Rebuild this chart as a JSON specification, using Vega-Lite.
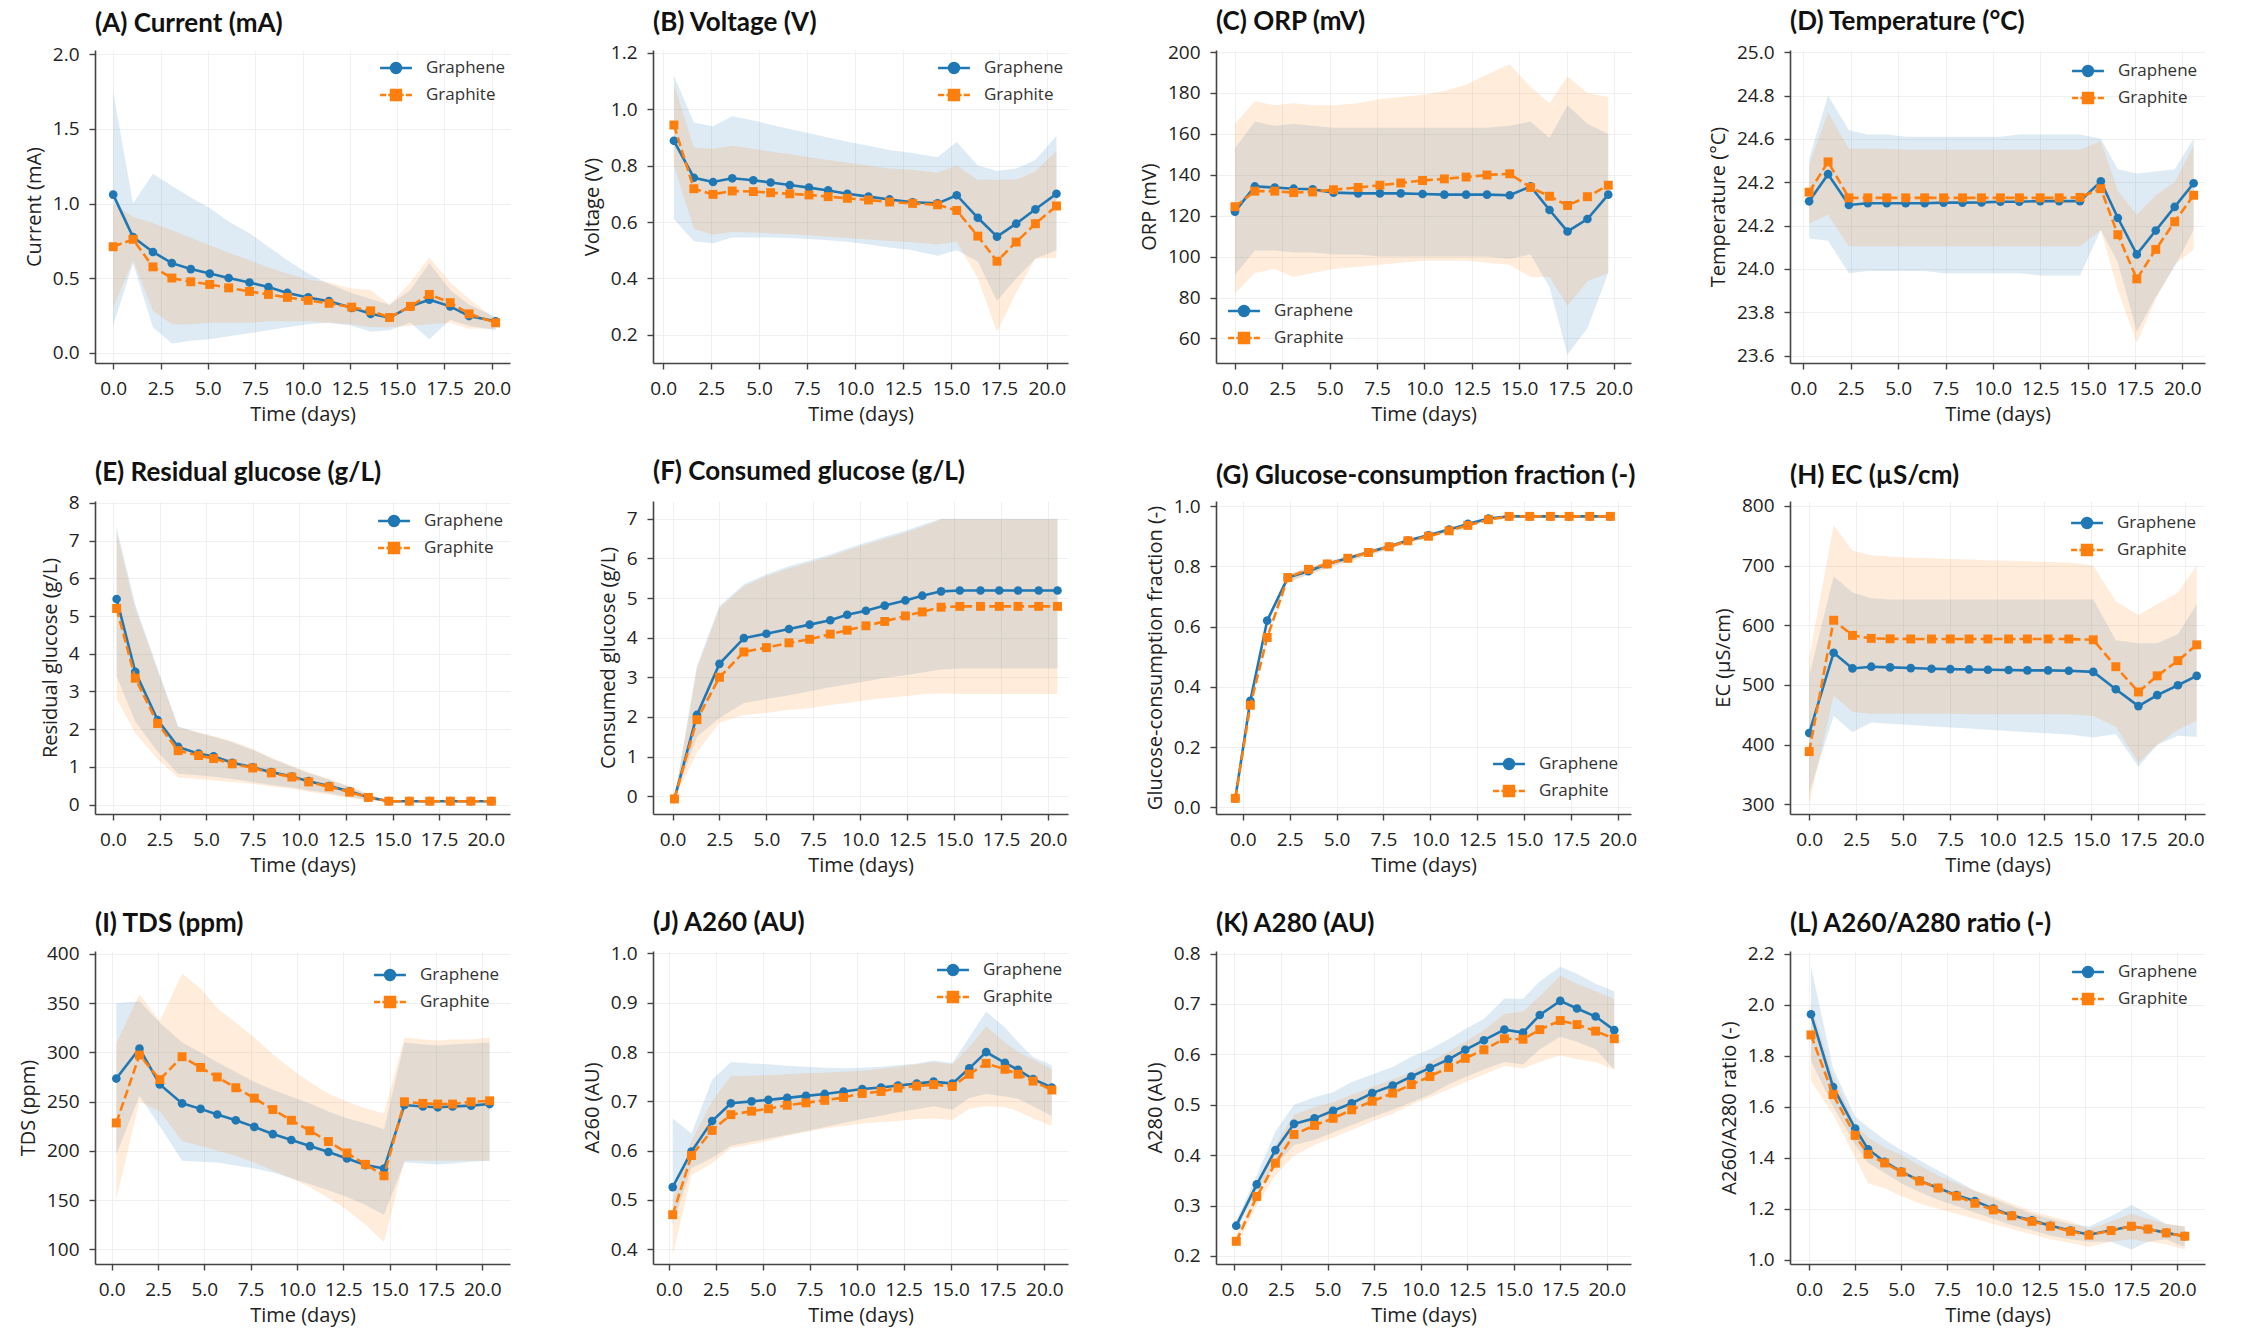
{
  "$schema": "https://vega.github.io/schema/vega-lite/v6.json",
  "background": "white",
  "padding": {"left": 18, "top": 9, "right": 5, "bottom": 2},
  "config": {
    "font": "Open Sans",
    "view": {"stroke": null},
    "axis": {"labelFontSize": 19, "titleFontSize": 20, "titleFontWeight": "normal", "labelColor": "#222", "titleColor": "#222", "domainColor": "#444", "domainWidth": 1.6, "tickColor": "#444", "tickWidth": 1.4, "tickSize": 6, "labelPadding": 10, "gridColor": "#f0f0f0", "grid": true},
    "axisX": {"titlePadding": 6},
    "axisY": {"titlePadding": 8},
    "title": {"font": "Lato", "fontSize": 26, "fontWeight": "bold", "anchor": "start", "color": "#111", "offset": 8, "frame": "group"},
    "legend": {"labelFontSize": 17, "labelColor": "#333", "symbolSize": 600, "symbolStrokeWidth": 2.6, "labelOffset": 16, "rowPadding": 2, "offset": 4, "padding": 2}
  },
  "resolve": {
    "scale": {"fill": "independent", "stroke": "independent", "shape": "independent"},
    "legend": {"fill": "independent", "stroke": "independent", "shape": "independent"}
  },
  "spacing": {"row": 35, "column": 71},
  "columns": 4,
  "datasets": {
    "bio": [
      {"panel":"A","material":"Graphene","day":0,"value":1.06,"lower":0.18,"upper":1.75},
      {"panel":"A","material":"Graphene","day":1.05,"value":0.775,"lower":0.6,"upper":1.0},
      {"panel":"A","material":"Graphene","day":2.1,"value":0.675,"lower":0.17,"upper":1.2},
      {"panel":"A","material":"Graphene","day":3.1,"value":0.6,"lower":0.06,"upper":1.12},
      {"panel":"A","material":"Graphene","day":4.1,"value":0.56,"lower":0.08,"upper":1.04},
      {"panel":"A","material":"Graphene","day":5.1,"value":0.53,"lower":0.09,"upper":0.97},
      {"panel":"A","material":"Graphene","day":6.1,"value":0.5,"lower":0.11,"upper":0.88},
      {"panel":"A","material":"Graphene","day":7.2,"value":0.47,"lower":0.13,"upper":0.8},
      {"panel":"A","material":"Graphene","day":8.2,"value":0.44,"lower":0.15,"upper":0.71},
      {"panel":"A","material":"Graphene","day":9.2,"value":0.4,"lower":0.17,"upper":0.62},
      {"panel":"A","material":"Graphene","day":10.3,"value":0.37,"lower":0.19,"upper":0.53},
      {"panel":"A","material":"Graphene","day":11.4,"value":0.345,"lower":0.2,"upper":0.46},
      {"panel":"A","material":"Graphene","day":12.6,"value":0.3,"lower":0.18,"upper":0.4},
      {"panel":"A","material":"Graphene","day":13.6,"value":0.26,"lower":0.14,"upper":0.36},
      {"panel":"A","material":"Graphene","day":14.6,"value":0.235,"lower":0.15,"upper":0.32},
      {"panel":"A","material":"Graphene","day":15.7,"value":0.31,"lower":0.2,"upper":0.42},
      {"panel":"A","material":"Graphene","day":16.7,"value":0.355,"lower":0.09,"upper":0.6},
      {"panel":"A","material":"Graphene","day":17.8,"value":0.31,"lower":0.22,"upper":0.42},
      {"panel":"A","material":"Graphene","day":18.8,"value":0.245,"lower":0.18,"upper":0.32},
      {"panel":"A","material":"Graphene","day":20.2,"value":0.21,"lower":0.15,"upper":0.24},
      {"panel":"A","material":"Graphite","day":0,"value":0.71,"lower":0.3,"upper":1.0},
      {"panel":"A","material":"Graphite","day":1.05,"value":0.76,"lower":0.62,"upper":0.91},
      {"panel":"A","material":"Graphite","day":2.1,"value":0.575,"lower":0.28,"upper":0.87},
      {"panel":"A","material":"Graphite","day":3.1,"value":0.5,"lower":0.19,"upper":0.82},
      {"panel":"A","material":"Graphite","day":4.1,"value":0.475,"lower":0.19,"upper":0.77},
      {"panel":"A","material":"Graphite","day":5.1,"value":0.457,"lower":0.2,"upper":0.72},
      {"panel":"A","material":"Graphite","day":6.1,"value":0.434,"lower":0.2,"upper":0.67},
      {"panel":"A","material":"Graphite","day":7.2,"value":0.41,"lower":0.2,"upper":0.62},
      {"panel":"A","material":"Graphite","day":8.2,"value":0.39,"lower":0.21,"upper":0.57},
      {"panel":"A","material":"Graphite","day":9.2,"value":0.37,"lower":0.21,"upper":0.53},
      {"panel":"A","material":"Graphite","day":10.3,"value":0.35,"lower":0.21,"upper":0.49},
      {"panel":"A","material":"Graphite","day":11.4,"value":0.33,"lower":0.2,"upper":0.47},
      {"panel":"A","material":"Graphite","day":12.6,"value":0.305,"lower":0.19,"upper":0.43},
      {"panel":"A","material":"Graphite","day":13.6,"value":0.28,"lower":0.17,"upper":0.42},
      {"panel":"A","material":"Graphite","day":14.6,"value":0.235,"lower":0.17,"upper":0.32},
      {"panel":"A","material":"Graphite","day":15.7,"value":0.31,"lower":0.18,"upper":0.47},
      {"panel":"A","material":"Graphite","day":16.7,"value":0.39,"lower":0.19,"upper":0.64},
      {"panel":"A","material":"Graphite","day":17.8,"value":0.335,"lower":0.2,"upper":0.47},
      {"panel":"A","material":"Graphite","day":18.8,"value":0.26,"lower":0.16,"upper":0.36},
      {"panel":"A","material":"Graphite","day":20.2,"value":0.2,"lower":0.16,"upper":0.22},

      {"panel":"B","material":"Graphene","day":0.56,"value":0.888,"lower":0.61,"upper":1.12},
      {"panel":"B","material":"Graphene","day":1.6,"value":0.757,"lower":0.532,"upper":0.953},
      {"panel":"B","material":"Graphene","day":2.6,"value":0.742,"lower":0.525,"upper":0.94},
      {"panel":"B","material":"Graphene","day":3.6,"value":0.755,"lower":0.545,"upper":0.975},
      {"panel":"B","material":"Graphene","day":4.7,"value":0.748,"lower":0.545,"upper":0.96},
      {"panel":"B","material":"Graphene","day":5.6,"value":0.74,"lower":0.545,"upper":0.945},
      {"panel":"B","material":"Graphene","day":6.6,"value":0.731,"lower":0.543,"upper":0.93},
      {"panel":"B","material":"Graphene","day":7.6,"value":0.722,"lower":0.54,"upper":0.915},
      {"panel":"B","material":"Graphene","day":8.6,"value":0.712,"lower":0.535,"upper":0.9},
      {"panel":"B","material":"Graphene","day":9.6,"value":0.7,"lower":0.53,"upper":0.885},
      {"panel":"B","material":"Graphene","day":10.7,"value":0.69,"lower":0.52,"upper":0.87},
      {"panel":"B","material":"Graphene","day":11.8,"value":0.68,"lower":0.51,"upper":0.855},
      {"panel":"B","material":"Graphene","day":13.0,"value":0.67,"lower":0.5,"upper":0.845},
      {"panel":"B","material":"Graphene","day":14.3,"value":0.666,"lower":0.48,"upper":0.83},
      {"panel":"B","material":"Graphene","day":15.3,"value":0.695,"lower":0.5,"upper":0.884},
      {"panel":"B","material":"Graphene","day":16.4,"value":0.615,"lower":0.46,"upper":0.8},
      {"panel":"B","material":"Graphene","day":17.4,"value":0.548,"lower":0.32,"upper":0.781},
      {"panel":"B","material":"Graphene","day":18.4,"value":0.594,"lower":0.4,"upper":0.79},
      {"panel":"B","material":"Graphene","day":19.4,"value":0.645,"lower":0.47,"upper":0.82},
      {"panel":"B","material":"Graphene","day":20.5,"value":0.7,"lower":0.5,"upper":0.906},
      {"panel":"B","material":"Graphite","day":0.56,"value":0.944,"lower":0.8,"upper":1.09},
      {"panel":"B","material":"Graphite","day":1.6,"value":0.718,"lower":0.576,"upper":0.864},
      {"panel":"B","material":"Graphite","day":2.6,"value":0.698,"lower":0.555,"upper":0.86},
      {"panel":"B","material":"Graphite","day":3.6,"value":0.71,"lower":0.565,"upper":0.87},
      {"panel":"B","material":"Graphite","day":4.7,"value":0.708,"lower":0.563,"upper":0.86},
      {"panel":"B","material":"Graphite","day":5.6,"value":0.704,"lower":0.56,"upper":0.85},
      {"panel":"B","material":"Graphite","day":6.6,"value":0.7,"lower":0.557,"upper":0.84},
      {"panel":"B","material":"Graphite","day":7.6,"value":0.696,"lower":0.553,"upper":0.83},
      {"panel":"B","material":"Graphite","day":8.6,"value":0.69,"lower":0.548,"upper":0.82},
      {"panel":"B","material":"Graphite","day":9.6,"value":0.684,"lower":0.543,"upper":0.81},
      {"panel":"B","material":"Graphite","day":10.7,"value":0.678,"lower":0.538,"upper":0.8},
      {"panel":"B","material":"Graphite","day":11.8,"value":0.671,"lower":0.533,"upper":0.79},
      {"panel":"B","material":"Graphite","day":13.0,"value":0.666,"lower":0.528,"upper":0.785},
      {"panel":"B","material":"Graphite","day":14.3,"value":0.661,"lower":0.52,"upper":0.775},
      {"panel":"B","material":"Graphite","day":15.3,"value":0.641,"lower":0.53,"upper":0.8},
      {"panel":"B","material":"Graphite","day":16.4,"value":0.55,"lower":0.4,"upper":0.75},
      {"panel":"B","material":"Graphite","day":17.4,"value":0.461,"lower":0.21,"upper":0.75},
      {"panel":"B","material":"Graphite","day":18.4,"value":0.529,"lower":0.35,"upper":0.75},
      {"panel":"B","material":"Graphite","day":19.4,"value":0.594,"lower":0.47,"upper":0.78},
      {"panel":"B","material":"Graphite","day":20.5,"value":0.657,"lower":0.473,"upper":0.852},

      {"panel":"C","material":"Graphene","day":0,"value":122,"lower":91,"upper":153},
      {"panel":"C","material":"Graphene","day":1.05,"value":134.3,"lower":103,"upper":166},
      {"panel":"C","material":"Graphene","day":2.1,"value":133.8,"lower":103,"upper":164},
      {"panel":"C","material":"Graphene","day":3.1,"value":133.2,"lower":102,"upper":165},
      {"panel":"C","material":"Graphene","day":4.1,"value":132.9,"lower":102,"upper":164},
      {"panel":"C","material":"Graphene","day":5.2,"value":131.3,"lower":101,"upper":163},
      {"panel":"C","material":"Graphene","day":6.5,"value":130.9,"lower":101,"upper":163},
      {"panel":"C","material":"Graphene","day":7.65,"value":130.9,"lower":100,"upper":163},
      {"panel":"C","material":"Graphene","day":8.75,"value":130.9,"lower":100,"upper":163},
      {"panel":"C","material":"Graphene","day":9.9,"value":130.6,"lower":100,"upper":163},
      {"panel":"C","material":"Graphene","day":11.05,"value":130.3,"lower":100,"upper":163},
      {"panel":"C","material":"Graphene","day":12.2,"value":130.3,"lower":100,"upper":163},
      {"panel":"C","material":"Graphene","day":13.3,"value":130.3,"lower":100,"upper":163},
      {"panel":"C","material":"Graphene","day":14.5,"value":130,"lower":99,"upper":164},
      {"panel":"C","material":"Graphene","day":15.6,"value":134.3,"lower":101,"upper":166},
      {"panel":"C","material":"Graphene","day":16.6,"value":122.8,"lower":85,"upper":158},
      {"panel":"C","material":"Graphene","day":17.55,"value":112.3,"lower":52,"upper":174},
      {"panel":"C","material":"Graphene","day":18.6,"value":118.4,"lower":65,"upper":165},
      {"panel":"C","material":"Graphene","day":19.7,"value":130.3,"lower":92,"upper":160},
      {"panel":"C","material":"Graphite","day":0,"value":124.4,"lower":82,"upper":165},
      {"panel":"C","material":"Graphite","day":1.05,"value":132,"lower":92,"upper":176},
      {"panel":"C","material":"Graphite","day":2.1,"value":132,"lower":94,"upper":174},
      {"panel":"C","material":"Graphite","day":3.1,"value":131.3,"lower":90,"upper":175},
      {"panel":"C","material":"Graphite","day":4.1,"value":131.6,"lower":92,"upper":174},
      {"panel":"C","material":"Graphite","day":5.2,"value":132.7,"lower":94,"upper":174},
      {"panel":"C","material":"Graphite","day":6.5,"value":133.8,"lower":95,"upper":175},
      {"panel":"C","material":"Graphite","day":7.65,"value":134.9,"lower":96,"upper":177},
      {"panel":"C","material":"Graphite","day":8.75,"value":136,"lower":97,"upper":178},
      {"panel":"C","material":"Graphite","day":9.9,"value":137.2,"lower":98,"upper":179},
      {"panel":"C","material":"Graphite","day":11.05,"value":138,"lower":98,"upper":181},
      {"panel":"C","material":"Graphite","day":12.2,"value":138.9,"lower":98,"upper":184},
      {"panel":"C","material":"Graphite","day":13.3,"value":139.9,"lower":97,"upper":189},
      {"panel":"C","material":"Graphite","day":14.5,"value":140.5,"lower":96,"upper":194},
      {"panel":"C","material":"Graphite","day":15.6,"value":133.8,"lower":90,"upper":183},
      {"panel":"C","material":"Graphite","day":16.6,"value":129.5,"lower":90,"upper":175},
      {"panel":"C","material":"Graphite","day":17.55,"value":125,"lower":76,"upper":188},
      {"panel":"C","material":"Graphite","day":18.6,"value":129.3,"lower":88,"upper":180},
      {"panel":"C","material":"Graphite","day":19.7,"value":134.9,"lower":92,"upper":178},

      {"panel":"D","material":"Graphene","day":0.3,"value":24.312,"lower":24.14,"upper":24.51},
      {"panel":"D","material":"Graphene","day":1.3,"value":24.437,"lower":24.13,"upper":24.8},
      {"panel":"D","material":"Graphene","day":2.4,"value":24.295,"lower":23.98,"upper":24.64},
      {"panel":"D","material":"Graphene","day":3.4,"value":24.303,"lower":23.99,"upper":24.62},
      {"panel":"D","material":"Graphene","day":4.4,"value":24.303,"lower":23.99,"upper":24.62},
      {"panel":"D","material":"Graphene","day":5.4,"value":24.303,"lower":23.99,"upper":24.61},
      {"panel":"D","material":"Graphene","day":6.4,"value":24.303,"lower":23.99,"upper":24.61},
      {"panel":"D","material":"Graphene","day":7.4,"value":24.306,"lower":23.98,"upper":24.61},
      {"panel":"D","material":"Graphene","day":8.4,"value":24.306,"lower":23.98,"upper":24.61},
      {"panel":"D","material":"Graphene","day":9.4,"value":24.307,"lower":23.98,"upper":24.61},
      {"panel":"D","material":"Graphene","day":10.4,"value":24.31,"lower":23.98,"upper":24.61},
      {"panel":"D","material":"Graphene","day":11.4,"value":24.31,"lower":23.98,"upper":24.62},
      {"panel":"D","material":"Graphene","day":12.5,"value":24.313,"lower":23.97,"upper":24.62},
      {"panel":"D","material":"Graphene","day":13.5,"value":24.313,"lower":23.97,"upper":24.62},
      {"panel":"D","material":"Graphene","day":14.6,"value":24.313,"lower":23.97,"upper":24.62},
      {"panel":"D","material":"Graphene","day":15.7,"value":24.404,"lower":24.18,"upper":24.6},
      {"panel":"D","material":"Graphene","day":16.6,"value":24.235,"lower":24.03,"upper":24.46},
      {"panel":"D","material":"Graphene","day":17.6,"value":24.067,"lower":23.71,"upper":24.44},
      {"panel":"D","material":"Graphene","day":18.6,"value":24.177,"lower":23.87,"upper":24.45},
      {"panel":"D","material":"Graphene","day":19.6,"value":24.286,"lower":24.01,"upper":24.46},
      {"panel":"D","material":"Graphene","day":20.6,"value":24.395,"lower":24.18,"upper":24.6},
      {"panel":"D","material":"Graphite","day":0.3,"value":24.354,"lower":24.21,"upper":24.48},
      {"panel":"D","material":"Graphite","day":1.3,"value":24.494,"lower":24.25,"upper":24.72},
      {"panel":"D","material":"Graphite","day":2.4,"value":24.328,"lower":24.105,"upper":24.555},
      {"panel":"D","material":"Graphite","day":3.4,"value":24.328,"lower":24.105,"upper":24.555},
      {"panel":"D","material":"Graphite","day":4.4,"value":24.328,"lower":24.105,"upper":24.555},
      {"panel":"D","material":"Graphite","day":5.4,"value":24.328,"lower":24.105,"upper":24.55},
      {"panel":"D","material":"Graphite","day":6.4,"value":24.328,"lower":24.105,"upper":24.55},
      {"panel":"D","material":"Graphite","day":7.4,"value":24.328,"lower":24.105,"upper":24.55},
      {"panel":"D","material":"Graphite","day":8.4,"value":24.328,"lower":24.105,"upper":24.55},
      {"panel":"D","material":"Graphite","day":9.4,"value":24.328,"lower":24.105,"upper":24.55},
      {"panel":"D","material":"Graphite","day":10.4,"value":24.328,"lower":24.105,"upper":24.55},
      {"panel":"D","material":"Graphite","day":11.4,"value":24.328,"lower":24.105,"upper":24.55},
      {"panel":"D","material":"Graphite","day":12.5,"value":24.328,"lower":24.105,"upper":24.55},
      {"panel":"D","material":"Graphite","day":13.5,"value":24.328,"lower":24.105,"upper":24.55},
      {"panel":"D","material":"Graphite","day":14.6,"value":24.33,"lower":24.105,"upper":24.55},
      {"panel":"D","material":"Graphite","day":15.7,"value":24.37,"lower":24.18,"upper":24.59},
      {"panel":"D","material":"Graphite","day":16.6,"value":24.158,"lower":23.9,"upper":24.36},
      {"panel":"D","material":"Graphite","day":17.6,"value":23.954,"lower":23.66,"upper":24.25},
      {"panel":"D","material":"Graphite","day":18.6,"value":24.09,"lower":23.86,"upper":24.34},
      {"panel":"D","material":"Graphite","day":19.6,"value":24.218,"lower":24.02,"upper":24.4},
      {"panel":"D","material":"Graphite","day":20.6,"value":24.34,"lower":24.09,"upper":24.57},

      {"panel":"E","material":"Graphene","day":0.2,"value":5.45,"lower":3.4,"upper":7.35},
      {"panel":"E","material":"Graphene","day":1.2,"value":3.52,"lower":2.2,"upper":5.3},
      {"panel":"E","material":"Graphene","day":2.4,"value":2.24,"lower":1.4,"upper":3.6},
      {"panel":"E","material":"Graphene","day":3.5,"value":1.53,"lower":0.82,"upper":2.08},
      {"panel":"E","material":"Graphene","day":4.6,"value":1.35,"lower":0.78,"upper":1.9},
      {"panel":"E","material":"Graphene","day":5.4,"value":1.28,"lower":0.74,"upper":1.8},
      {"panel":"E","material":"Graphene","day":6.4,"value":1.11,"lower":0.68,"upper":1.65},
      {"panel":"E","material":"Graphene","day":7.5,"value":0.99,"lower":0.6,"upper":1.45},
      {"panel":"E","material":"Graphene","day":8.5,"value":0.86,"lower":0.52,"upper":1.22},
      {"panel":"E","material":"Graphene","day":9.6,"value":0.745,"lower":0.45,"upper":1.0},
      {"panel":"E","material":"Graphene","day":10.5,"value":0.62,"lower":0.38,"upper":0.84},
      {"panel":"E","material":"Graphene","day":11.6,"value":0.49,"lower":0.3,"upper":0.66},
      {"panel":"E","material":"Graphene","day":12.7,"value":0.35,"lower":0.2,"upper":0.47},
      {"panel":"E","material":"Graphene","day":13.7,"value":0.195,"lower":0.12,"upper":0.27},
      {"panel":"E","material":"Graphene","day":14.8,"value":0.09,"lower":0.08,"upper":0.1},
      {"panel":"E","material":"Graphene","day":15.9,"value":0.09,"lower":0.08,"upper":0.1},
      {"panel":"E","material":"Graphene","day":17.0,"value":0.09,"lower":0.08,"upper":0.1},
      {"panel":"E","material":"Graphene","day":18.1,"value":0.09,"lower":0.08,"upper":0.1},
      {"panel":"E","material":"Graphene","day":19.2,"value":0.09,"lower":0.08,"upper":0.1},
      {"panel":"E","material":"Graphene","day":20.3,"value":0.09,"lower":0.08,"upper":0.1},
      {"panel":"E","material":"Graphite","day":0.2,"value":5.2,"lower":2.8,"upper":7.2},
      {"panel":"E","material":"Graphite","day":1.2,"value":3.35,"lower":1.9,"upper":5.2},
      {"panel":"E","material":"Graphite","day":2.4,"value":2.15,"lower":1.2,"upper":3.55},
      {"panel":"E","material":"Graphite","day":3.5,"value":1.43,"lower":0.72,"upper":2.05},
      {"panel":"E","material":"Graphite","day":4.6,"value":1.3,"lower":0.68,"upper":1.92},
      {"panel":"E","material":"Graphite","day":5.4,"value":1.22,"lower":0.64,"upper":1.82},
      {"panel":"E","material":"Graphite","day":6.4,"value":1.08,"lower":0.6,"upper":1.68},
      {"panel":"E","material":"Graphite","day":7.5,"value":0.97,"lower":0.55,"upper":1.48},
      {"panel":"E","material":"Graphite","day":8.5,"value":0.84,"lower":0.48,"upper":1.25},
      {"panel":"E","material":"Graphite","day":9.6,"value":0.73,"lower":0.42,"upper":1.03},
      {"panel":"E","material":"Graphite","day":10.5,"value":0.6,"lower":0.34,"upper":0.86},
      {"panel":"E","material":"Graphite","day":11.6,"value":0.47,"lower":0.26,"upper":0.68},
      {"panel":"E","material":"Graphite","day":12.7,"value":0.33,"lower":0.18,"upper":0.48},
      {"panel":"E","material":"Graphite","day":13.7,"value":0.19,"lower":0.1,"upper":0.28},
      {"panel":"E","material":"Graphite","day":14.8,"value":0.09,"lower":0.08,"upper":0.1},
      {"panel":"E","material":"Graphite","day":15.9,"value":0.09,"lower":0.08,"upper":0.1},
      {"panel":"E","material":"Graphite","day":17.0,"value":0.09,"lower":0.08,"upper":0.1},
      {"panel":"E","material":"Graphite","day":18.1,"value":0.09,"lower":0.08,"upper":0.1},
      {"panel":"E","material":"Graphite","day":19.2,"value":0.09,"lower":0.08,"upper":0.1},
      {"panel":"E","material":"Graphite","day":20.3,"value":0.09,"lower":0.08,"upper":0.1},

      {"panel":"F","material":"Graphene","day":0.1,"value":-0.07,"lower":-0.07,"upper":-0.07},
      {"panel":"F","material":"Graphene","day":1.3,"value":2.05,"lower":1.5,"upper":3.3},
      {"panel":"F","material":"Graphene","day":2.5,"value":3.34,"lower":1.97,"upper":4.8},
      {"panel":"F","material":"Graphene","day":3.8,"value":3.99,"lower":2.35,"upper":5.35},
      {"panel":"F","material":"Graphene","day":5.0,"value":4.1,"lower":2.45,"upper":5.6},
      {"panel":"F","material":"Graphene","day":6.2,"value":4.22,"lower":2.55,"upper":5.8},
      {"panel":"F","material":"Graphene","day":7.3,"value":4.33,"lower":2.65,"upper":5.95},
      {"panel":"F","material":"Graphene","day":8.4,"value":4.44,"lower":2.75,"upper":6.1},
      {"panel":"F","material":"Graphene","day":9.3,"value":4.58,"lower":2.82,"upper":6.25},
      {"panel":"F","material":"Graphene","day":10.3,"value":4.68,"lower":2.9,"upper":6.4},
      {"panel":"F","material":"Graphene","day":11.3,"value":4.81,"lower":2.98,"upper":6.55},
      {"panel":"F","material":"Graphene","day":12.4,"value":4.94,"lower":3.05,"upper":6.7},
      {"panel":"F","material":"Graphene","day":13.3,"value":5.06,"lower":3.12,"upper":6.85},
      {"panel":"F","material":"Graphene","day":14.3,"value":5.17,"lower":3.2,"upper":7.0},
      {"panel":"F","material":"Graphene","day":15.3,"value":5.19,"lower":3.22,"upper":7.0},
      {"panel":"F","material":"Graphene","day":16.4,"value":5.19,"lower":3.22,"upper":7.0},
      {"panel":"F","material":"Graphene","day":17.4,"value":5.19,"lower":3.22,"upper":7.0},
      {"panel":"F","material":"Graphene","day":18.4,"value":5.19,"lower":3.22,"upper":7.0},
      {"panel":"F","material":"Graphene","day":19.5,"value":5.19,"lower":3.22,"upper":7.0},
      {"panel":"F","material":"Graphene","day":20.5,"value":5.19,"lower":3.22,"upper":7.0},
      {"panel":"F","material":"Graphite","day":0.1,"value":-0.07,"lower":-0.07,"upper":-0.07},
      {"panel":"F","material":"Graphite","day":1.3,"value":1.93,"lower":1.1,"upper":3.2},
      {"panel":"F","material":"Graphite","day":2.5,"value":3.0,"lower":1.85,"upper":4.75},
      {"panel":"F","material":"Graphite","day":3.8,"value":3.64,"lower":2.05,"upper":5.3},
      {"panel":"F","material":"Graphite","day":5.0,"value":3.75,"lower":2.1,"upper":5.55},
      {"panel":"F","material":"Graphite","day":6.2,"value":3.87,"lower":2.18,"upper":5.75},
      {"panel":"F","material":"Graphite","day":7.3,"value":3.96,"lower":2.22,"upper":5.9},
      {"panel":"F","material":"Graphite","day":8.4,"value":4.09,"lower":2.3,"upper":6.05},
      {"panel":"F","material":"Graphite","day":9.3,"value":4.19,"lower":2.35,"upper":6.2},
      {"panel":"F","material":"Graphite","day":10.3,"value":4.3,"lower":2.42,"upper":6.35},
      {"panel":"F","material":"Graphite","day":11.3,"value":4.41,"lower":2.48,"upper":6.5},
      {"panel":"F","material":"Graphite","day":12.4,"value":4.55,"lower":2.52,"upper":6.65},
      {"panel":"F","material":"Graphite","day":13.3,"value":4.65,"lower":2.57,"upper":6.8},
      {"panel":"F","material":"Graphite","day":14.3,"value":4.77,"lower":2.6,"upper":6.98},
      {"panel":"F","material":"Graphite","day":15.3,"value":4.79,"lower":2.58,"upper":6.98},
      {"panel":"F","material":"Graphite","day":16.4,"value":4.79,"lower":2.58,"upper":6.98},
      {"panel":"F","material":"Graphite","day":17.4,"value":4.79,"lower":2.58,"upper":6.98},
      {"panel":"F","material":"Graphite","day":18.4,"value":4.79,"lower":2.58,"upper":6.98},
      {"panel":"F","material":"Graphite","day":19.5,"value":4.79,"lower":2.58,"upper":6.98},
      {"panel":"F","material":"Graphite","day":20.5,"value":4.79,"lower":2.58,"upper":6.98},

      {"panel":"G","material":"Graphene","day":-0.4,"value":0.03,"lower":0.025,"upper":0.035},
      {"panel":"G","material":"Graphene","day":0.4,"value":0.354,"lower":0.342,"upper":0.362},
      {"panel":"G","material":"Graphene","day":1.3,"value":0.62,"lower":0.605,"upper":0.63},
      {"panel":"G","material":"Graphene","day":2.4,"value":0.763,"lower":0.75,"upper":0.772},
      {"panel":"G","material":"Graphene","day":3.5,"value":0.784,"lower":0.772,"upper":0.793},
      {"panel":"G","material":"Graphene","day":4.5,"value":0.808,"lower":0.797,"upper":0.816},
      {"panel":"G","material":"Graphene","day":5.6,"value":0.827,"lower":0.817,"upper":0.834},
      {"panel":"G","material":"Graphene","day":6.7,"value":0.847,"lower":0.838,"upper":0.854},
      {"panel":"G","material":"Graphene","day":7.8,"value":0.866,"lower":0.858,"upper":0.873},
      {"panel":"G","material":"Graphene","day":8.8,"value":0.886,"lower":0.878,"upper":0.892},
      {"panel":"G","material":"Graphene","day":9.9,"value":0.903,"lower":0.896,"upper":0.909},
      {"panel":"G","material":"Graphene","day":11.0,"value":0.922,"lower":0.916,"upper":0.928},
      {"panel":"G","material":"Graphene","day":12.0,"value":0.941,"lower":0.935,"upper":0.946},
      {"panel":"G","material":"Graphene","day":13.1,"value":0.959,"lower":0.954,"upper":0.963},
      {"panel":"G","material":"Graphene","day":14.2,"value":0.966,"lower":0.963,"upper":0.969},
      {"panel":"G","material":"Graphene","day":15.3,"value":0.966,"lower":0.963,"upper":0.969},
      {"panel":"G","material":"Graphene","day":16.4,"value":0.966,"lower":0.963,"upper":0.969},
      {"panel":"G","material":"Graphene","day":17.4,"value":0.966,"lower":0.963,"upper":0.969},
      {"panel":"G","material":"Graphene","day":18.5,"value":0.966,"lower":0.963,"upper":0.969},
      {"panel":"G","material":"Graphene","day":19.6,"value":0.966,"lower":0.963,"upper":0.969},
      {"panel":"G","material":"Graphite","day":-0.4,"value":0.03,"lower":0.025,"upper":0.035},
      {"panel":"G","material":"Graphite","day":0.4,"value":0.339,"lower":0.325,"upper":0.348},
      {"panel":"G","material":"Graphite","day":1.3,"value":0.564,"lower":0.548,"upper":0.574},
      {"panel":"G","material":"Graphite","day":2.4,"value":0.763,"lower":0.745,"upper":0.772},
      {"panel":"G","material":"Graphite","day":3.5,"value":0.79,"lower":0.772,"upper":0.798},
      {"panel":"G","material":"Graphite","day":4.5,"value":0.808,"lower":0.792,"upper":0.815},
      {"panel":"G","material":"Graphite","day":5.6,"value":0.827,"lower":0.814,"upper":0.834},
      {"panel":"G","material":"Graphite","day":6.7,"value":0.846,"lower":0.836,"upper":0.853},
      {"panel":"G","material":"Graphite","day":7.8,"value":0.865,"lower":0.856,"upper":0.872},
      {"panel":"G","material":"Graphite","day":8.8,"value":0.885,"lower":0.877,"upper":0.891},
      {"panel":"G","material":"Graphite","day":9.9,"value":0.9,"lower":0.893,"upper":0.906},
      {"panel":"G","material":"Graphite","day":11.0,"value":0.918,"lower":0.912,"upper":0.924},
      {"panel":"G","material":"Graphite","day":12.0,"value":0.936,"lower":0.93,"upper":0.942},
      {"panel":"G","material":"Graphite","day":13.1,"value":0.955,"lower":0.95,"upper":0.96},
      {"panel":"G","material":"Graphite","day":14.2,"value":0.966,"lower":0.963,"upper":0.969},
      {"panel":"G","material":"Graphite","day":15.3,"value":0.966,"lower":0.963,"upper":0.969},
      {"panel":"G","material":"Graphite","day":16.4,"value":0.966,"lower":0.963,"upper":0.969},
      {"panel":"G","material":"Graphite","day":17.4,"value":0.966,"lower":0.963,"upper":0.969},
      {"panel":"G","material":"Graphite","day":18.5,"value":0.966,"lower":0.963,"upper":0.969},
      {"panel":"G","material":"Graphite","day":19.6,"value":0.966,"lower":0.963,"upper":0.969},

      {"panel":"H","material":"Graphene","day":0,"value":419.5,"lower":320,"upper":515},
      {"panel":"H","material":"Graphene","day":1.3,"value":554,"lower":448,"upper":682},
      {"panel":"H","material":"Graphene","day":2.3,"value":527.7,"lower":421,"upper":655},
      {"panel":"H","material":"Graphene","day":3.3,"value":530.6,"lower":437,"upper":645},
      {"panel":"H","material":"Graphene","day":4.3,"value":529.4,"lower":435,"upper":643},
      {"panel":"H","material":"Graphene","day":5.4,"value":528.3,"lower":433,"upper":643},
      {"panel":"H","material":"Graphene","day":6.5,"value":527.2,"lower":431,"upper":643},
      {"panel":"H","material":"Graphene","day":7.5,"value":526.6,"lower":429,"upper":643},
      {"panel":"H","material":"Graphene","day":8.5,"value":526,"lower":427,"upper":643},
      {"panel":"H","material":"Graphene","day":9.5,"value":525.5,"lower":425,"upper":643},
      {"panel":"H","material":"Graphene","day":10.6,"value":525,"lower":423,"upper":643},
      {"panel":"H","material":"Graphene","day":11.6,"value":524.4,"lower":421,"upper":643},
      {"panel":"H","material":"Graphene","day":12.7,"value":524.4,"lower":419,"upper":643},
      {"panel":"H","material":"Graphene","day":13.8,"value":523.8,"lower":417,"upper":643},
      {"panel":"H","material":"Graphene","day":15.1,"value":522,"lower":412,"upper":643},
      {"panel":"H","material":"Graphene","day":16.3,"value":492.8,"lower":418,"upper":575},
      {"panel":"H","material":"Graphene","day":17.5,"value":464.6,"lower":363,"upper":570},
      {"panel":"H","material":"Graphene","day":18.5,"value":483,"lower":400,"upper":570},
      {"panel":"H","material":"Graphene","day":19.6,"value":499.6,"lower":415,"upper":585},
      {"panel":"H","material":"Graphene","day":20.6,"value":515.3,"lower":413,"upper":635},
      {"panel":"H","material":"Graphite","day":0,"value":388.5,"lower":300,"upper":545},
      {"panel":"H","material":"Graphite","day":1.3,"value":608.3,"lower":482,"upper":768},
      {"panel":"H","material":"Graphite","day":2.3,"value":583,"lower":455,"upper":725},
      {"panel":"H","material":"Graphite","day":3.3,"value":578,"lower":452,"upper":717},
      {"panel":"H","material":"Graphite","day":4.3,"value":577.3,"lower":452,"upper":715},
      {"panel":"H","material":"Graphite","day":5.4,"value":577,"lower":452,"upper":713},
      {"panel":"H","material":"Graphite","day":6.5,"value":577,"lower":452,"upper":712},
      {"panel":"H","material":"Graphite","day":7.5,"value":577,"lower":452,"upper":711},
      {"panel":"H","material":"Graphite","day":8.5,"value":577,"lower":451,"upper":710},
      {"panel":"H","material":"Graphite","day":9.5,"value":577,"lower":451,"upper":709},
      {"panel":"H","material":"Graphite","day":10.6,"value":577,"lower":451,"upper":708},
      {"panel":"H","material":"Graphite","day":11.6,"value":577,"lower":451,"upper":707},
      {"panel":"H","material":"Graphite","day":12.7,"value":577,"lower":451,"upper":706},
      {"panel":"H","material":"Graphite","day":13.8,"value":577,"lower":451,"upper":705},
      {"panel":"H","material":"Graphite","day":15.1,"value":575.6,"lower":448,"upper":700},
      {"panel":"H","material":"Graphite","day":16.3,"value":530.6,"lower":430,"upper":640},
      {"panel":"H","material":"Graphite","day":17.5,"value":488.3,"lower":370,"upper":617},
      {"panel":"H","material":"Graphite","day":18.5,"value":515.3,"lower":400,"upper":635},
      {"panel":"H","material":"Graphite","day":19.6,"value":540.7,"lower":425,"upper":655},
      {"panel":"H","material":"Graphite","day":20.6,"value":567.2,"lower":440,"upper":700},

      {"panel":"I","material":"Graphene","day":0.25,"value":273.4,"lower":196,"upper":350},
      {"panel":"I","material":"Graphene","day":1.5,"value":303.9,"lower":256,"upper":352},
      {"panel":"I","material":"Graphene","day":2.6,"value":267.4,"lower":225,"upper":330},
      {"panel":"I","material":"Graphene","day":3.8,"value":248.2,"lower":190,"upper":310},
      {"panel":"I","material":"Graphene","day":4.8,"value":242.6,"lower":189,"upper":300},
      {"panel":"I","material":"Graphene","day":5.7,"value":236.9,"lower":188,"upper":290},
      {"panel":"I","material":"Graphene","day":6.7,"value":231,"lower":185,"upper":280},
      {"panel":"I","material":"Graphene","day":7.7,"value":224.3,"lower":182,"upper":270},
      {"panel":"I","material":"Graphene","day":8.7,"value":217,"lower":178,"upper":262},
      {"panel":"I","material":"Graphene","day":9.7,"value":211,"lower":172,"upper":255},
      {"panel":"I","material":"Graphene","day":10.7,"value":204.8,"lower":166,"upper":248},
      {"panel":"I","material":"Graphene","day":11.7,"value":198.8,"lower":160,"upper":240},
      {"panel":"I","material":"Graphene","day":12.7,"value":192.2,"lower":153,"upper":233},
      {"panel":"I","material":"Graphene","day":13.7,"value":185.5,"lower":145,"upper":228},
      {"panel":"I","material":"Graphene","day":14.7,"value":181.9,"lower":135,"upper":222},
      {"panel":"I","material":"Graphene","day":15.8,"value":246.5,"lower":188,"upper":310},
      {"panel":"I","material":"Graphene","day":16.8,"value":245,"lower":187,"upper":308},
      {"panel":"I","material":"Graphene","day":17.6,"value":244.2,"lower":186,"upper":307},
      {"panel":"I","material":"Graphene","day":18.4,"value":245,"lower":187,"upper":308},
      {"panel":"I","material":"Graphene","day":19.4,"value":245.9,"lower":189,"upper":309},
      {"panel":"I","material":"Graphene","day":20.4,"value":247.5,"lower":190,"upper":310},
      {"panel":"I","material":"Graphite","day":0.25,"value":228.3,"lower":151,"upper":309},
      {"panel":"I","material":"Graphite","day":1.5,"value":297.2,"lower":250,"upper":359},
      {"panel":"I","material":"Graphite","day":2.6,"value":272.4,"lower":240,"upper":332},
      {"panel":"I","material":"Graphite","day":3.8,"value":295.6,"lower":210,"upper":380},
      {"panel":"I","material":"Graphite","day":4.8,"value":284.7,"lower":205,"upper":365},
      {"panel":"I","material":"Graphite","day":5.7,"value":275,"lower":200,"upper":345},
      {"panel":"I","material":"Graphite","day":6.7,"value":264.1,"lower":195,"upper":330},
      {"panel":"I","material":"Graphite","day":7.7,"value":253.5,"lower":188,"upper":315},
      {"panel":"I","material":"Graphite","day":8.7,"value":241.9,"lower":180,"upper":298},
      {"panel":"I","material":"Graphite","day":9.7,"value":231,"lower":172,"upper":283},
      {"panel":"I","material":"Graphite","day":10.7,"value":220.4,"lower":163,"upper":270},
      {"panel":"I","material":"Graphite","day":11.7,"value":209.4,"lower":152,"upper":258},
      {"panel":"I","material":"Graphite","day":12.7,"value":197.8,"lower":140,"upper":250},
      {"panel":"I","material":"Graphite","day":13.7,"value":186.2,"lower":125,"upper":243},
      {"panel":"I","material":"Graphite","day":14.7,"value":174.6,"lower":107,"upper":238},
      {"panel":"I","material":"Graphite","day":15.8,"value":249.8,"lower":190,"upper":315},
      {"panel":"I","material":"Graphite","day":16.8,"value":248.2,"lower":190,"upper":313},
      {"panel":"I","material":"Graphite","day":17.6,"value":247.5,"lower":190,"upper":312},
      {"panel":"I","material":"Graphite","day":18.4,"value":247.5,"lower":190,"upper":313},
      {"panel":"I","material":"Graphite","day":19.4,"value":249.8,"lower":190,"upper":313},
      {"panel":"I","material":"Graphite","day":20.4,"value":250.8,"lower":190,"upper":315},

      {"panel":"J","material":"Graphene","day":0.2,"value":0.526,"lower":0.45,"upper":0.665},
      {"panel":"J","material":"Graphene","day":1.2,"value":0.598,"lower":0.565,"upper":0.635},
      {"panel":"J","material":"Graphene","day":2.3,"value":0.66,"lower":0.585,"upper":0.744},
      {"panel":"J","material":"Graphene","day":3.3,"value":0.696,"lower":0.61,"upper":0.78},
      {"panel":"J","material":"Graphene","day":4.4,"value":0.7,"lower":0.618,"upper":0.777},
      {"panel":"J","material":"Graphene","day":5.3,"value":0.703,"lower":0.625,"upper":0.775},
      {"panel":"J","material":"Graphene","day":6.3,"value":0.707,"lower":0.632,"upper":0.772},
      {"panel":"J","material":"Graphene","day":7.3,"value":0.711,"lower":0.64,"upper":0.77},
      {"panel":"J","material":"Graphene","day":8.3,"value":0.715,"lower":0.648,"upper":0.768},
      {"panel":"J","material":"Graphene","day":9.3,"value":0.72,"lower":0.656,"upper":0.767},
      {"panel":"J","material":"Graphene","day":10.3,"value":0.725,"lower":0.664,"upper":0.768},
      {"panel":"J","material":"Graphene","day":11.3,"value":0.728,"lower":0.671,"upper":0.77},
      {"panel":"J","material":"Graphene","day":12.2,"value":0.732,"lower":0.678,"upper":0.773},
      {"panel":"J","material":"Graphene","day":13.2,"value":0.736,"lower":0.684,"upper":0.777},
      {"panel":"J","material":"Graphene","day":14.1,"value":0.74,"lower":0.69,"upper":0.783},
      {"panel":"J","material":"Graphene","day":15.1,"value":0.736,"lower":0.683,"upper":0.778},
      {"panel":"J","material":"Graphene","day":16.0,"value":0.767,"lower":0.707,"upper":0.83},
      {"panel":"J","material":"Graphene","day":16.9,"value":0.8,"lower":0.715,"upper":0.882},
      {"panel":"J","material":"Graphene","day":17.9,"value":0.778,"lower":0.71,"upper":0.85},
      {"panel":"J","material":"Graphene","day":18.6,"value":0.764,"lower":0.705,"upper":0.82},
      {"panel":"J","material":"Graphene","day":19.4,"value":0.745,"lower":0.69,"upper":0.79},
      {"panel":"J","material":"Graphene","day":20.4,"value":0.728,"lower":0.67,"upper":0.773},
      {"panel":"J","material":"Graphite","day":0.2,"value":0.47,"lower":0.387,"upper":0.5},
      {"panel":"J","material":"Graphite","day":1.2,"value":0.59,"lower":0.55,"upper":0.62},
      {"panel":"J","material":"Graphite","day":2.3,"value":0.641,"lower":0.575,"upper":0.7},
      {"panel":"J","material":"Graphite","day":3.3,"value":0.673,"lower":0.605,"upper":0.751},
      {"panel":"J","material":"Graphite","day":4.4,"value":0.68,"lower":0.613,"upper":0.752},
      {"panel":"J","material":"Graphite","day":5.3,"value":0.685,"lower":0.62,"upper":0.753},
      {"panel":"J","material":"Graphite","day":6.3,"value":0.692,"lower":0.63,"upper":0.755},
      {"panel":"J","material":"Graphite","day":7.3,"value":0.697,"lower":0.638,"upper":0.757},
      {"panel":"J","material":"Graphite","day":8.3,"value":0.702,"lower":0.645,"upper":0.758},
      {"panel":"J","material":"Graphite","day":9.3,"value":0.708,"lower":0.65,"upper":0.76},
      {"panel":"J","material":"Graphite","day":10.3,"value":0.716,"lower":0.655,"upper":0.762},
      {"panel":"J","material":"Graphite","day":11.3,"value":0.72,"lower":0.658,"upper":0.766},
      {"panel":"J","material":"Graphite","day":12.2,"value":0.727,"lower":0.66,"upper":0.77},
      {"panel":"J","material":"Graphite","day":13.2,"value":0.731,"lower":0.664,"upper":0.775},
      {"panel":"J","material":"Graphite","day":14.1,"value":0.734,"lower":0.665,"upper":0.78},
      {"panel":"J","material":"Graphite","day":15.1,"value":0.73,"lower":0.662,"upper":0.775},
      {"panel":"J","material":"Graphite","day":16.0,"value":0.755,"lower":0.685,"upper":0.81},
      {"panel":"J","material":"Graphite","day":16.9,"value":0.777,"lower":0.69,"upper":0.852},
      {"panel":"J","material":"Graphite","day":17.9,"value":0.765,"lower":0.688,"upper":0.82},
      {"panel":"J","material":"Graphite","day":18.6,"value":0.755,"lower":0.68,"upper":0.8},
      {"panel":"J","material":"Graphite","day":19.4,"value":0.741,"lower":0.665,"upper":0.785},
      {"panel":"J","material":"Graphite","day":20.4,"value":0.723,"lower":0.65,"upper":0.765},

      {"panel":"K","material":"Graphene","day":0.1,"value":0.26,"lower":0.25,"upper":0.27},
      {"panel":"K","material":"Graphene","day":1.2,"value":0.342,"lower":0.33,"upper":0.36},
      {"panel":"K","material":"Graphene","day":2.2,"value":0.41,"lower":0.38,"upper":0.447},
      {"panel":"K","material":"Graphene","day":3.2,"value":0.462,"lower":0.42,"upper":0.5},
      {"panel":"K","material":"Graphene","day":4.3,"value":0.473,"lower":0.43,"upper":0.515},
      {"panel":"K","material":"Graphene","day":5.3,"value":0.488,"lower":0.445,"upper":0.525},
      {"panel":"K","material":"Graphene","day":6.3,"value":0.503,"lower":0.46,"upper":0.545},
      {"panel":"K","material":"Graphene","day":7.4,"value":0.523,"lower":0.475,"upper":0.56},
      {"panel":"K","material":"Graphene","day":8.5,"value":0.538,"lower":0.49,"upper":0.575},
      {"panel":"K","material":"Graphene","day":9.5,"value":0.556,"lower":0.505,"upper":0.595},
      {"panel":"K","material":"Graphene","day":10.5,"value":0.573,"lower":0.52,"upper":0.61},
      {"panel":"K","material":"Graphene","day":11.5,"value":0.59,"lower":0.54,"upper":0.63},
      {"panel":"K","material":"Graphene","day":12.4,"value":0.609,"lower":0.555,"upper":0.65},
      {"panel":"K","material":"Graphene","day":13.4,"value":0.628,"lower":0.57,"upper":0.67},
      {"panel":"K","material":"Graphene","day":14.5,"value":0.649,"lower":0.585,"upper":0.711},
      {"panel":"K","material":"Graphene","day":15.5,"value":0.643,"lower":0.58,"upper":0.71},
      {"panel":"K","material":"Graphene","day":16.4,"value":0.678,"lower":0.61,"upper":0.745},
      {"panel":"K","material":"Graphene","day":17.5,"value":0.706,"lower":0.635,"upper":0.774},
      {"panel":"K","material":"Graphene","day":18.4,"value":0.691,"lower":0.625,"upper":0.76},
      {"panel":"K","material":"Graphene","day":19.4,"value":0.675,"lower":0.61,"upper":0.74},
      {"panel":"K","material":"Graphene","day":20.4,"value":0.648,"lower":0.57,"upper":0.725},
      {"panel":"K","material":"Graphite","day":0.1,"value":0.229,"lower":0.22,"upper":0.24},
      {"panel":"K","material":"Graphite","day":1.2,"value":0.318,"lower":0.3,"upper":0.34},
      {"panel":"K","material":"Graphite","day":2.2,"value":0.384,"lower":0.36,"upper":0.42},
      {"panel":"K","material":"Graphite","day":3.2,"value":0.441,"lower":0.399,"upper":0.48},
      {"panel":"K","material":"Graphite","day":4.3,"value":0.459,"lower":0.42,"upper":0.495},
      {"panel":"K","material":"Graphite","day":5.3,"value":0.473,"lower":0.435,"upper":0.505},
      {"panel":"K","material":"Graphite","day":6.3,"value":0.49,"lower":0.45,"upper":0.52},
      {"panel":"K","material":"Graphite","day":7.4,"value":0.507,"lower":0.467,"upper":0.535},
      {"panel":"K","material":"Graphite","day":8.5,"value":0.523,"lower":0.482,"upper":0.55},
      {"panel":"K","material":"Graphite","day":9.5,"value":0.54,"lower":0.5,"upper":0.565},
      {"panel":"K","material":"Graphite","day":10.5,"value":0.556,"lower":0.515,"upper":0.585},
      {"panel":"K","material":"Graphite","day":11.5,"value":0.574,"lower":0.53,"upper":0.605},
      {"panel":"K","material":"Graphite","day":12.4,"value":0.592,"lower":0.545,"upper":0.625},
      {"panel":"K","material":"Graphite","day":13.4,"value":0.609,"lower":0.56,"upper":0.648},
      {"panel":"K","material":"Graphite","day":14.5,"value":0.631,"lower":0.577,"upper":0.68},
      {"panel":"K","material":"Graphite","day":15.5,"value":0.63,"lower":0.572,"upper":0.685},
      {"panel":"K","material":"Graphite","day":16.4,"value":0.649,"lower":0.585,"upper":0.715},
      {"panel":"K","material":"Graphite","day":17.5,"value":0.667,"lower":0.598,"upper":0.756},
      {"panel":"K","material":"Graphite","day":18.4,"value":0.659,"lower":0.59,"upper":0.74},
      {"panel":"K","material":"Graphite","day":19.4,"value":0.646,"lower":0.585,"upper":0.725},
      {"panel":"K","material":"Graphite","day":20.4,"value":0.631,"lower":0.57,"upper":0.71},

      {"panel":"L","material":"Graphene","day":0.1,"value":1.962,"lower":1.78,"upper":2.15},
      {"panel":"L","material":"Graphene","day":1.3,"value":1.677,"lower":1.6,"upper":1.75},
      {"panel":"L","material":"Graphene","day":2.5,"value":1.514,"lower":1.45,"upper":1.56},
      {"panel":"L","material":"Graphene","day":3.2,"value":1.433,"lower":1.38,"upper":1.52},
      {"panel":"L","material":"Graphene","day":4.1,"value":1.384,"lower":1.34,"upper":1.47},
      {"panel":"L","material":"Graphene","day":5.0,"value":1.345,"lower":1.3,"upper":1.43},
      {"panel":"L","material":"Graphene","day":6.0,"value":1.31,"lower":1.265,"upper":1.39},
      {"panel":"L","material":"Graphene","day":7.0,"value":1.281,"lower":1.235,"upper":1.35},
      {"panel":"L","material":"Graphene","day":8.0,"value":1.253,"lower":1.21,"upper":1.31},
      {"panel":"L","material":"Graphene","day":9.0,"value":1.23,"lower":1.185,"upper":1.27},
      {"panel":"L","material":"Graphene","day":10.0,"value":1.2,"lower":1.16,"upper":1.24},
      {"panel":"L","material":"Graphene","day":11.0,"value":1.173,"lower":1.135,"upper":1.21},
      {"panel":"L","material":"Graphene","day":12.1,"value":1.154,"lower":1.115,"upper":1.18},
      {"panel":"L","material":"Graphene","day":13.1,"value":1.133,"lower":1.095,"upper":1.16},
      {"panel":"L","material":"Graphene","day":14.2,"value":1.114,"lower":1.08,"upper":1.14},
      {"panel":"L","material":"Graphene","day":15.2,"value":1.098,"lower":1.07,"upper":1.13},
      {"panel":"L","material":"Graphene","day":16.4,"value":1.115,"lower":1.07,"upper":1.17},
      {"panel":"L","material":"Graphene","day":17.5,"value":1.131,"lower":1.04,"upper":1.214},
      {"panel":"L","material":"Graphene","day":18.4,"value":1.12,"lower":1.07,"upper":1.18},
      {"panel":"L","material":"Graphene","day":19.4,"value":1.105,"lower":1.08,"upper":1.14},
      {"panel":"L","material":"Graphene","day":20.4,"value":1.092,"lower":1.05,"upper":1.13},
      {"panel":"L","material":"Graphite","day":0.1,"value":1.881,"lower":1.7,"upper":2.0},
      {"panel":"L","material":"Graphite","day":1.3,"value":1.647,"lower":1.57,"upper":1.72},
      {"panel":"L","material":"Graphite","day":2.5,"value":1.487,"lower":1.4,"upper":1.53},
      {"panel":"L","material":"Graphite","day":3.2,"value":1.413,"lower":1.3,"upper":1.48},
      {"panel":"L","material":"Graphite","day":4.1,"value":1.379,"lower":1.28,"upper":1.44},
      {"panel":"L","material":"Graphite","day":5.0,"value":1.343,"lower":1.25,"upper":1.41},
      {"panel":"L","material":"Graphite","day":6.0,"value":1.308,"lower":1.22,"upper":1.37},
      {"panel":"L","material":"Graphite","day":7.0,"value":1.281,"lower":1.2,"upper":1.33},
      {"panel":"L","material":"Graphite","day":8.0,"value":1.249,"lower":1.18,"upper":1.3},
      {"panel":"L","material":"Graphite","day":9.0,"value":1.221,"lower":1.16,"upper":1.27},
      {"panel":"L","material":"Graphite","day":10.0,"value":1.195,"lower":1.14,"upper":1.25},
      {"panel":"L","material":"Graphite","day":11.0,"value":1.172,"lower":1.12,"upper":1.22},
      {"panel":"L","material":"Graphite","day":12.1,"value":1.15,"lower":1.1,"upper":1.19},
      {"panel":"L","material":"Graphite","day":13.1,"value":1.131,"lower":1.08,"upper":1.17},
      {"panel":"L","material":"Graphite","day":14.2,"value":1.111,"lower":1.065,"upper":1.15},
      {"panel":"L","material":"Graphite","day":15.2,"value":1.096,"lower":1.05,"upper":1.12},
      {"panel":"L","material":"Graphite","day":16.4,"value":1.114,"lower":1.07,"upper":1.15},
      {"panel":"L","material":"Graphite","day":17.5,"value":1.131,"lower":1.08,"upper":1.18},
      {"panel":"L","material":"Graphite","day":18.4,"value":1.12,"lower":1.07,"upper":1.16},
      {"panel":"L","material":"Graphite","day":19.4,"value":1.105,"lower":1.06,"upper":1.14},
      {"panel":"L","material":"Graphite","day":20.4,"value":1.092,"lower":1.04,"upper":1.13}
    ]
  },
  "data": {"name": "bio"},
  "concat": [
    {
      "title": {"text": "(A) Current (mA)", "frame": "group"}, "width": 415, "height": 313,
      "transform": [{"filter": "datum.panel == 'A'"}],
      "encoding": {"x": {"field": "day", "type": "quantitative", "title": "Time (days)", "scale": {"domain": [-0.96, 20.96], "nice": false, "zero": false}, "axis": {"values": [0, 2.5, 5, 7.5, 10, 12.5, 15, 17.5, 20], "format": ".1f"}}},
      "layer": [
        {"transform": [{"filter": "datum.material == 'Graphene'"}], "mark": {"type": "area", "color": "#1f77b4", "opacity": 0.15}, "encoding": {"y": {"field": "lower", "type": "quantitative", "title": "Current (mA)", "scale": {"domain": [-0.07, 2.03], "nice": false, "zero": false}, "axis": {"values": [0, 0.5, 1, 1.5, 2], "format": ".1f"}}, "y2": {"field": "upper"}}},
        {"transform": [{"filter": "datum.material == 'Graphite'"}], "mark": {"type": "area", "color": "#ff7f0e", "opacity": 0.15}, "encoding": {"y": {"field": "lower", "type": "quantitative", "title": "Current (mA)", "scale": {"domain": [-0.07, 2.03], "nice": false, "zero": false}, "axis": {"values": [0, 0.5, 1, 1.5, 2], "format": ".1f"}}, "y2": {"field": "upper"}}},
        {"transform": [{"filter": "datum.material == 'Graphene'"}], "mark": {"type": "line", "color": "#1f77b4", "strokeWidth": 2.6, "point": {"filled": true, "size": 75, "color": "#1f77b4", "opacity": 1}}, "encoding": {"y": {"field": "value", "type": "quantitative", "title": "Current (mA)", "scale": {"domain": [-0.07, 2.03], "nice": false, "zero": false}, "axis": {"values": [0, 0.5, 1, 1.5, 2], "format": ".1f"}}}},
        {"transform": [{"filter": "datum.material == 'Graphite'"}], "mark": {"type": "line", "color": "#ff7f0e", "strokeWidth": 2.6, "strokeDash": [9, 4], "point": {"filled": true, "shape": "square", "size": 80, "color": "#ff7f0e", "opacity": 1}}, "encoding": {"y": {"field": "value", "type": "quantitative", "title": "Current (mA)", "scale": {"domain": [-0.07, 2.03], "nice": false, "zero": false}, "axis": {"values": [0, 0.5, 1, 1.5, 2], "format": ".1f"}}}},
        {"transform": [{"filter": "datum.panel == 'none'"}], "mark": {"type": "point", "filled": true, "opacity": 1, "strokeWidth": 2.6},
         "encoding": {
           "fill": {"field": "material", "type": "nominal", "scale": {"domain": ["Graphene", "Graphite"], "range": ["#1f77b4", "#ff7f0e"]}, "legend": {"title": null, "orient": "top-right", "offset": 2}},
           "stroke": {"field": "material", "type": "nominal", "scale": {"domain": ["Graphene", "Graphite"], "range": ["#1f77b4", "#ff7f0e"]}, "legend": {"title": null, "orient": "top-right", "offset": 2}},
           "shape": {"field": "material", "type": "nominal", "scale": {"domain": ["Graphene", "Graphite"], "range": ["M-1.3,0H1.3M0.4,0A0.4,0.4,0,1,1,-0.4,0A0.4,0.4,0,1,1,0.4,0Z", "M-1.3,0H-0.8M-0.62,0H-0.45M0.45,0H0.62M0.8,0H1.3M-0.4,-0.4H0.4V0.4H-0.4Z"]}, "legend": {"title": null, "orient": "top-right", "offset": 2}}
         }}
      ]
    },
    {
      "title": {"text": "(B) Voltage (V)", "frame": "group"}, "width": 415, "height": 313,
      "transform": [{"filter": "datum.panel == 'B'"}],
      "encoding": {"x": {"field": "day", "type": "quantitative", "title": "Time (days)", "scale": {"domain": [-0.53, 21.1], "nice": false, "zero": false}, "axis": {"values": [0, 2.5, 5, 7.5, 10, 12.5, 15, 17.5, 20], "format": ".1f"}}},
      "layer": [
        {"transform": [{"filter": "datum.material == 'Graphene'"}], "mark": {"type": "area", "color": "#1f77b4", "opacity": 0.15}, "encoding": {"y": {"field": "lower", "type": "quantitative", "title": "Voltage (V)", "scale": {"domain": [0.1, 1.21], "nice": false, "zero": false}, "axis": {"values": [0.2, 0.4, 0.6, 0.8, 1.0, 1.2], "format": ".1f"}}, "y2": {"field": "upper"}}},
        {"transform": [{"filter": "datum.material == 'Graphite'"}], "mark": {"type": "area", "color": "#ff7f0e", "opacity": 0.15}, "encoding": {"y": {"field": "lower", "type": "quantitative", "title": "Voltage (V)", "scale": {"domain": [0.1, 1.21], "nice": false, "zero": false}, "axis": {"values": [0.2, 0.4, 0.6, 0.8, 1.0, 1.2], "format": ".1f"}}, "y2": {"field": "upper"}}},
        {"transform": [{"filter": "datum.material == 'Graphene'"}], "mark": {"type": "line", "color": "#1f77b4", "strokeWidth": 2.6, "point": {"filled": true, "size": 75, "color": "#1f77b4", "opacity": 1}}, "encoding": {"y": {"field": "value", "type": "quantitative", "title": "Voltage (V)", "scale": {"domain": [0.1, 1.21], "nice": false, "zero": false}, "axis": {"values": [0.2, 0.4, 0.6, 0.8, 1.0, 1.2], "format": ".1f"}}}},
        {"transform": [{"filter": "datum.material == 'Graphite'"}], "mark": {"type": "line", "color": "#ff7f0e", "strokeWidth": 2.6, "strokeDash": [9, 4], "point": {"filled": true, "shape": "square", "size": 80, "color": "#ff7f0e", "opacity": 1}}, "encoding": {"y": {"field": "value", "type": "quantitative", "title": "Voltage (V)", "scale": {"domain": [0.1, 1.21], "nice": false, "zero": false}, "axis": {"values": [0.2, 0.4, 0.6, 0.8, 1.0, 1.2], "format": ".1f"}}}},
        {"transform": [{"filter": "datum.panel == 'none'"}], "mark": {"type": "point", "filled": true, "opacity": 1, "strokeWidth": 2.6},
         "encoding": {
           "fill": {"field": "material", "type": "nominal", "scale": {"domain": ["Graphene", "Graphite"], "range": ["#1f77b4", "#ff7f0e"]}, "legend": {"title": null, "orient": "top-right", "offset": 2}},
           "stroke": {"field": "material", "type": "nominal", "scale": {"domain": ["Graphene", "Graphite"], "range": ["#1f77b4", "#ff7f0e"]}, "legend": {"title": null, "orient": "top-right", "offset": 2}},
           "shape": {"field": "material", "type": "nominal", "scale": {"domain": ["Graphene", "Graphite"], "range": ["M-1.3,0H1.3M0.4,0A0.4,0.4,0,1,1,-0.4,0A0.4,0.4,0,1,1,0.4,0Z", "M-1.3,0H-0.8M-0.62,0H-0.45M0.45,0H0.62M0.8,0H1.3M-0.4,-0.4H0.4V0.4H-0.4Z"]}, "legend": {"title": null, "orient": "top-right", "offset": 2}}
         }}
      ]
    },
    {
      "title": {"text": "(C) ORP (mV)", "frame": "group"}, "width": 415, "height": 313,
      "transform": [{"filter": "datum.panel == 'C'"}],
      "encoding": {"x": {"field": "day", "type": "quantitative", "title": "Time (days)", "scale": {"domain": [-1.0, 20.9], "nice": false, "zero": false}, "axis": {"values": [0, 2.5, 5, 7.5, 10, 12.5, 15, 17.5, 20], "format": ".1f"}}},
      "layer": [
        {"transform": [{"filter": "datum.material == 'Graphene'"}], "mark": {"type": "area", "color": "#1f77b4", "opacity": 0.15}, "encoding": {"y": {"field": "lower", "type": "quantitative", "title": "ORP (mV)", "scale": {"domain": [48, 201], "nice": false, "zero": false}, "axis": {"values": [60, 80, 100, 120, 140, 160, 180, 200], "format": "d"}}, "y2": {"field": "upper"}}},
        {"transform": [{"filter": "datum.material == 'Graphite'"}], "mark": {"type": "area", "color": "#ff7f0e", "opacity": 0.15}, "encoding": {"y": {"field": "lower", "type": "quantitative", "title": "ORP (mV)", "scale": {"domain": [48, 201], "nice": false, "zero": false}, "axis": {"values": [60, 80, 100, 120, 140, 160, 180, 200], "format": "d"}}, "y2": {"field": "upper"}}},
        {"transform": [{"filter": "datum.material == 'Graphene'"}], "mark": {"type": "line", "color": "#1f77b4", "strokeWidth": 2.6, "point": {"filled": true, "size": 75, "color": "#1f77b4", "opacity": 1}}, "encoding": {"y": {"field": "value", "type": "quantitative", "title": "ORP (mV)", "scale": {"domain": [48, 201], "nice": false, "zero": false}, "axis": {"values": [60, 80, 100, 120, 140, 160, 180, 200], "format": "d"}}}},
        {"transform": [{"filter": "datum.material == 'Graphite'"}], "mark": {"type": "line", "color": "#ff7f0e", "strokeWidth": 2.6, "strokeDash": [9, 4], "point": {"filled": true, "shape": "square", "size": 80, "color": "#ff7f0e", "opacity": 1}}, "encoding": {"y": {"field": "value", "type": "quantitative", "title": "ORP (mV)", "scale": {"domain": [48, 201], "nice": false, "zero": false}, "axis": {"values": [60, 80, 100, 120, 140, 160, 180, 200], "format": "d"}}}},
        {"transform": [{"filter": "datum.panel == 'none'"}], "mark": {"type": "point", "filled": true, "opacity": 1, "strokeWidth": 2.6},
         "encoding": {
           "fill": {"field": "material", "type": "nominal", "scale": {"domain": ["Graphene", "Graphite"], "range": ["#1f77b4", "#ff7f0e"]}, "legend": {"title": null, "orient": "bottom-left", "offset": 12}},
           "stroke": {"field": "material", "type": "nominal", "scale": {"domain": ["Graphene", "Graphite"], "range": ["#1f77b4", "#ff7f0e"]}, "legend": {"title": null, "orient": "bottom-left", "offset": 12}},
           "shape": {"field": "material", "type": "nominal", "scale": {"domain": ["Graphene", "Graphite"], "range": ["M-1.3,0H1.3M0.4,0A0.4,0.4,0,1,1,-0.4,0A0.4,0.4,0,1,1,0.4,0Z", "M-1.3,0H-0.8M-0.62,0H-0.45M0.45,0H0.62M0.8,0H1.3M-0.4,-0.4H0.4V0.4H-0.4Z"]}, "legend": {"title": null, "orient": "bottom-left", "offset": 12}}
         }}
      ]
    },
    {
      "title": {"text": "(D) Temperature (°C)", "frame": "group"}, "width": 415, "height": 313,
      "transform": [{"filter": "datum.panel == 'D'"}],
      "encoding": {"x": {"field": "day", "type": "quantitative", "title": "Time (days)", "scale": {"domain": [-0.71, 21.2], "nice": false, "zero": false}, "axis": {"values": [0, 2.5, 5, 7.5, 10, 12.5, 15, 17.5, 20], "format": ".1f"}}},
      "layer": [
        {"transform": [{"filter": "datum.material == 'Graphene'"}], "mark": {"type": "area", "color": "#1f77b4", "opacity": 0.15}, "encoding": {"y": {"field": "lower", "type": "quantitative", "title": "Temperature (°C)", "scale": {"domain": [23.566, 25.01], "nice": false, "zero": false}, "axis": {"values": [23.6, 23.8, 24.0, 24.2, 24.4, 24.6, 24.8, 25.0], "labelExpr": "datum.value == 24.4 ? '24.2' : format(datum.value, '.1f')"}}, "y2": {"field": "upper"}}},
        {"transform": [{"filter": "datum.material == 'Graphite'"}], "mark": {"type": "area", "color": "#ff7f0e", "opacity": 0.15}, "encoding": {"y": {"field": "lower", "type": "quantitative", "title": "Temperature (°C)", "scale": {"domain": [23.566, 25.01], "nice": false, "zero": false}, "axis": {"values": [23.6, 23.8, 24.0, 24.2, 24.4, 24.6, 24.8, 25.0], "labelExpr": "datum.value == 24.4 ? '24.2' : format(datum.value, '.1f')"}}, "y2": {"field": "upper"}}},
        {"transform": [{"filter": "datum.material == 'Graphene'"}], "mark": {"type": "line", "color": "#1f77b4", "strokeWidth": 2.6, "point": {"filled": true, "size": 75, "color": "#1f77b4", "opacity": 1}}, "encoding": {"y": {"field": "value", "type": "quantitative", "title": "Temperature (°C)", "scale": {"domain": [23.566, 25.01], "nice": false, "zero": false}, "axis": {"values": [23.6, 23.8, 24.0, 24.2, 24.4, 24.6, 24.8, 25.0], "labelExpr": "datum.value == 24.4 ? '24.2' : format(datum.value, '.1f')"}}}},
        {"transform": [{"filter": "datum.material == 'Graphite'"}], "mark": {"type": "line", "color": "#ff7f0e", "strokeWidth": 2.6, "strokeDash": [9, 4], "point": {"filled": true, "shape": "square", "size": 80, "color": "#ff7f0e", "opacity": 1}}, "encoding": {"y": {"field": "value", "type": "quantitative", "title": "Temperature (°C)", "scale": {"domain": [23.566, 25.01], "nice": false, "zero": false}, "axis": {"values": [23.6, 23.8, 24.0, 24.2, 24.4, 24.6, 24.8, 25.0], "labelExpr": "datum.value == 24.4 ? '24.2' : format(datum.value, '.1f')"}}}},
        {"transform": [{"filter": "datum.panel == 'none'"}], "mark": {"type": "point", "filled": true, "opacity": 1, "strokeWidth": 2.6},
         "encoding": {
           "fill": {"field": "material", "type": "nominal", "scale": {"domain": ["Graphene", "Graphite"], "range": ["#1f77b4", "#ff7f0e"]}, "legend": {"title": null, "orient": "top-right", "offset": 5}},
           "stroke": {"field": "material", "type": "nominal", "scale": {"domain": ["Graphene", "Graphite"], "range": ["#1f77b4", "#ff7f0e"]}, "legend": {"title": null, "orient": "top-right", "offset": 5}},
           "shape": {"field": "material", "type": "nominal", "scale": {"domain": ["Graphene", "Graphite"], "range": ["M-1.3,0H1.3M0.4,0A0.4,0.4,0,1,1,-0.4,0A0.4,0.4,0,1,1,0.4,0Z", "M-1.3,0H-0.8M-0.62,0H-0.45M0.45,0H0.62M0.8,0H1.3M-0.4,-0.4H0.4V0.4H-0.4Z"]}, "legend": {"title": null, "orient": "top-right", "offset": 5}}
         }}
      ]
    },
    {
      "title": {"text": "(E) Residual glucose (g/L)", "frame": "group"}, "width": 415, "height": 313,
      "transform": [{"filter": "datum.panel == 'E'"}],
      "encoding": {"x": {"field": "day", "type": "quantitative", "title": "Time (days)", "scale": {"domain": [-0.96, 21.3], "nice": false, "zero": false}, "axis": {"values": [0, 2.5, 5, 7.5, 10, 12.5, 15, 17.5, 20], "format": ".1f"}}},
      "layer": [
        {"transform": [{"filter": "datum.material == 'Graphene'"}], "mark": {"type": "area", "color": "#1f77b4", "opacity": 0.15}, "encoding": {"y": {"field": "lower", "type": "quantitative", "title": "Residual glucose (g/L)", "scale": {"domain": [-0.25, 8.05], "nice": false, "zero": false}, "axis": {"values": [0, 1, 2, 3, 4, 5, 6, 7, 8], "format": "d"}}, "y2": {"field": "upper"}}},
        {"transform": [{"filter": "datum.material == 'Graphite'"}], "mark": {"type": "area", "color": "#ff7f0e", "opacity": 0.15}, "encoding": {"y": {"field": "lower", "type": "quantitative", "title": "Residual glucose (g/L)", "scale": {"domain": [-0.25, 8.05], "nice": false, "zero": false}, "axis": {"values": [0, 1, 2, 3, 4, 5, 6, 7, 8], "format": "d"}}, "y2": {"field": "upper"}}},
        {"transform": [{"filter": "datum.material == 'Graphene'"}], "mark": {"type": "line", "color": "#1f77b4", "strokeWidth": 2.6, "point": {"filled": true, "size": 75, "color": "#1f77b4", "opacity": 1}}, "encoding": {"y": {"field": "value", "type": "quantitative", "title": "Residual glucose (g/L)", "scale": {"domain": [-0.25, 8.05], "nice": false, "zero": false}, "axis": {"values": [0, 1, 2, 3, 4, 5, 6, 7, 8], "format": "d"}}}},
        {"transform": [{"filter": "datum.material == 'Graphite'"}], "mark": {"type": "line", "color": "#ff7f0e", "strokeWidth": 2.6, "strokeDash": [9, 4], "point": {"filled": true, "shape": "square", "size": 80, "color": "#ff7f0e", "opacity": 1}}, "encoding": {"y": {"field": "value", "type": "quantitative", "title": "Residual glucose (g/L)", "scale": {"domain": [-0.25, 8.05], "nice": false, "zero": false}, "axis": {"values": [0, 1, 2, 3, 4, 5, 6, 7, 8], "format": "d"}}}},
        {"transform": [{"filter": "datum.panel == 'none'"}], "mark": {"type": "point", "filled": true, "opacity": 1, "strokeWidth": 2.6},
         "encoding": {
           "fill": {"field": "material", "type": "nominal", "scale": {"domain": ["Graphene", "Graphite"], "range": ["#1f77b4", "#ff7f0e"]}, "legend": {"title": null, "orient": "top-right", "offset": 4}},
           "stroke": {"field": "material", "type": "nominal", "scale": {"domain": ["Graphene", "Graphite"], "range": ["#1f77b4", "#ff7f0e"]}, "legend": {"title": null, "orient": "top-right", "offset": 4}},
           "shape": {"field": "material", "type": "nominal", "scale": {"domain": ["Graphene", "Graphite"], "range": ["M-1.3,0H1.3M0.4,0A0.4,0.4,0,1,1,-0.4,0A0.4,0.4,0,1,1,0.4,0Z", "M-1.3,0H-0.8M-0.62,0H-0.45M0.45,0H0.62M0.8,0H1.3M-0.4,-0.4H0.4V0.4H-0.4Z"]}, "legend": {"title": null, "orient": "top-right", "offset": 4}}
         }}
      ]
    },
    {
      "title": {"text": "(F) Consumed glucose (g/L)", "frame": "group", "offset": 16}, "width": 415, "height": 313,
      "transform": [{"filter": "datum.panel == 'F'"}],
      "encoding": {"x": {"field": "day", "type": "quantitative", "title": "Time (days)", "scale": {"domain": [-1.04, 21.06], "nice": false, "zero": false}, "axis": {"values": [0, 2.5, 5, 7.5, 10, 12.5, 15, 17.5, 20], "format": ".1f"}}},
      "layer": [
        {"transform": [{"filter": "datum.material == 'Graphene'"}], "mark": {"type": "area", "color": "#1f77b4", "opacity": 0.15}, "encoding": {"y": {"field": "lower", "type": "quantitative", "title": "Consumed glucose (g/L)", "scale": {"domain": [-0.45, 7.45], "nice": false, "zero": false}, "axis": {"values": [0, 1, 2, 3, 4, 5, 6, 7], "format": "d"}}, "y2": {"field": "upper"}}},
        {"transform": [{"filter": "datum.material == 'Graphite'"}], "mark": {"type": "area", "color": "#ff7f0e", "opacity": 0.15}, "encoding": {"y": {"field": "lower", "type": "quantitative", "title": "Consumed glucose (g/L)", "scale": {"domain": [-0.45, 7.45], "nice": false, "zero": false}, "axis": {"values": [0, 1, 2, 3, 4, 5, 6, 7], "format": "d"}}, "y2": {"field": "upper"}}},
        {"transform": [{"filter": "datum.material == 'Graphene'"}], "mark": {"type": "line", "color": "#1f77b4", "strokeWidth": 2.6, "point": {"filled": true, "size": 75, "color": "#1f77b4", "opacity": 1}}, "encoding": {"y": {"field": "value", "type": "quantitative", "title": "Consumed glucose (g/L)", "scale": {"domain": [-0.45, 7.45], "nice": false, "zero": false}, "axis": {"values": [0, 1, 2, 3, 4, 5, 6, 7], "format": "d"}}}},
        {"transform": [{"filter": "datum.material == 'Graphite'"}], "mark": {"type": "line", "color": "#ff7f0e", "strokeWidth": 2.6, "strokeDash": [9, 4], "point": {"filled": true, "shape": "square", "size": 80, "color": "#ff7f0e", "opacity": 1}}, "encoding": {"y": {"field": "value", "type": "quantitative", "title": "Consumed glucose (g/L)", "scale": {"domain": [-0.45, 7.45], "nice": false, "zero": false}, "axis": {"values": [0, 1, 2, 3, 4, 5, 6, 7], "format": "d"}}}}
      ]
    },
    {
      "title": {"text": "(G) Glucose-consumption fraction (-)", "frame": "group"}, "width": 415, "height": 313,
      "transform": [{"filter": "datum.panel == 'G'"}],
      "encoding": {"x": {"field": "day", "type": "quantitative", "title": "Time (days)", "scale": {"domain": [-1.43, 20.7], "nice": false, "zero": false}, "axis": {"values": [0, 2.5, 5, 7.5, 10, 12.5, 15, 17.5, 20], "format": ".1f"}}},
      "layer": [
        {"transform": [{"filter": "datum.material == 'Graphene'"}], "mark": {"type": "area", "color": "#1f77b4", "opacity": 0.15}, "encoding": {"y": {"field": "lower", "type": "quantitative", "title": "Glucose-consumption fraction (-)", "scale": {"domain": [-0.022, 1.017], "nice": false, "zero": false}, "axis": {"values": [0, 0.2, 0.4, 0.6, 0.8, 1.0], "format": ".1f"}}, "y2": {"field": "upper"}}},
        {"transform": [{"filter": "datum.material == 'Graphite'"}], "mark": {"type": "area", "color": "#ff7f0e", "opacity": 0.15}, "encoding": {"y": {"field": "lower", "type": "quantitative", "title": "Glucose-consumption fraction (-)", "scale": {"domain": [-0.022, 1.017], "nice": false, "zero": false}, "axis": {"values": [0, 0.2, 0.4, 0.6, 0.8, 1.0], "format": ".1f"}}, "y2": {"field": "upper"}}},
        {"transform": [{"filter": "datum.material == 'Graphene'"}], "mark": {"type": "line", "color": "#1f77b4", "strokeWidth": 2.6, "point": {"filled": true, "size": 75, "color": "#1f77b4", "opacity": 1}}, "encoding": {"y": {"field": "value", "type": "quantitative", "title": "Glucose-consumption fraction (-)", "scale": {"domain": [-0.022, 1.017], "nice": false, "zero": false}, "axis": {"values": [0, 0.2, 0.4, 0.6, 0.8, 1.0], "format": ".1f"}}}},
        {"transform": [{"filter": "datum.material == 'Graphite'"}], "mark": {"type": "line", "color": "#ff7f0e", "strokeWidth": 2.6, "strokeDash": [9, 4], "point": {"filled": true, "shape": "square", "size": 80, "color": "#ff7f0e", "opacity": 1}}, "encoding": {"y": {"field": "value", "type": "quantitative", "title": "Glucose-consumption fraction (-)", "scale": {"domain": [-0.022, 1.017], "nice": false, "zero": false}, "axis": {"values": [0, 0.2, 0.4, 0.6, 0.8, 1.0], "format": ".1f"}}}},
        {"transform": [{"filter": "datum.panel == 'none'"}], "mark": {"type": "point", "filled": true, "opacity": 1, "strokeWidth": 2.6},
         "encoding": {
           "fill": {"field": "material", "type": "nominal", "scale": {"domain": ["Graphene", "Graphite"], "range": ["#1f77b4", "#ff7f0e"]}, "legend": {"title": null, "orient": "bottom-right", "offset": 10}},
           "stroke": {"field": "material", "type": "nominal", "scale": {"domain": ["Graphene", "Graphite"], "range": ["#1f77b4", "#ff7f0e"]}, "legend": {"title": null, "orient": "bottom-right", "offset": 10}},
           "shape": {"field": "material", "type": "nominal", "scale": {"domain": ["Graphene", "Graphite"], "range": ["M-1.3,0H1.3M0.4,0A0.4,0.4,0,1,1,-0.4,0A0.4,0.4,0,1,1,0.4,0Z", "M-1.3,0H-0.8M-0.62,0H-0.45M0.45,0H0.62M0.8,0H1.3M-0.4,-0.4H0.4V0.4H-0.4Z"]}, "legend": {"title": null, "orient": "bottom-right", "offset": 10}}
         }}
      ]
    },
    {
      "title": {"text": "(H) EC (µS/cm)", "frame": "group"}, "width": 415, "height": 313,
      "transform": [{"filter": "datum.panel == 'H'"}],
      "encoding": {"x": {"field": "day", "type": "quantitative", "title": "Time (days)", "scale": {"domain": [-1.02, 21.04], "nice": false, "zero": false}, "axis": {"values": [0, 2.5, 5, 7.5, 10, 12.5, 15, 17.5, 20], "format": ".1f"}}},
      "layer": [
        {"transform": [{"filter": "datum.material == 'Graphene'"}], "mark": {"type": "area", "color": "#1f77b4", "opacity": 0.15}, "encoding": {"y": {"field": "lower", "type": "quantitative", "title": "EC (µS/cm)", "scale": {"domain": [284, 808], "nice": false, "zero": false}, "axis": {"values": [300, 400, 500, 600, 700, 800], "format": "d"}}, "y2": {"field": "upper"}}},
        {"transform": [{"filter": "datum.material == 'Graphite'"}], "mark": {"type": "area", "color": "#ff7f0e", "opacity": 0.15}, "encoding": {"y": {"field": "lower", "type": "quantitative", "title": "EC (µS/cm)", "scale": {"domain": [284, 808], "nice": false, "zero": false}, "axis": {"values": [300, 400, 500, 600, 700, 800], "format": "d"}}, "y2": {"field": "upper"}}},
        {"transform": [{"filter": "datum.material == 'Graphene'"}], "mark": {"type": "line", "color": "#1f77b4", "strokeWidth": 2.6, "point": {"filled": true, "size": 75, "color": "#1f77b4", "opacity": 1}}, "encoding": {"y": {"field": "value", "type": "quantitative", "title": "EC (µS/cm)", "scale": {"domain": [284, 808], "nice": false, "zero": false}, "axis": {"values": [300, 400, 500, 600, 700, 800], "format": "d"}}}},
        {"transform": [{"filter": "datum.material == 'Graphite'"}], "mark": {"type": "line", "color": "#ff7f0e", "strokeWidth": 2.6, "strokeDash": [9, 4], "point": {"filled": true, "shape": "square", "size": 80, "color": "#ff7f0e", "opacity": 1}}, "encoding": {"y": {"field": "value", "type": "quantitative", "title": "EC (µS/cm)", "scale": {"domain": [284, 808], "nice": false, "zero": false}, "axis": {"values": [300, 400, 500, 600, 700, 800], "format": "d"}}}},
        {"transform": [{"filter": "datum.panel == 'none'"}], "mark": {"type": "point", "filled": true, "opacity": 1, "strokeWidth": 2.6},
         "encoding": {
           "fill": {"field": "material", "type": "nominal", "scale": {"domain": ["Graphene", "Graphite"], "range": ["#1f77b4", "#ff7f0e"]}, "legend": {"title": null, "orient": "top-right", "offset": 6}},
           "stroke": {"field": "material", "type": "nominal", "scale": {"domain": ["Graphene", "Graphite"], "range": ["#1f77b4", "#ff7f0e"]}, "legend": {"title": null, "orient": "top-right", "offset": 6}},
           "shape": {"field": "material", "type": "nominal", "scale": {"domain": ["Graphene", "Graphite"], "range": ["M-1.3,0H1.3M0.4,0A0.4,0.4,0,1,1,-0.4,0A0.4,0.4,0,1,1,0.4,0Z", "M-1.3,0H-0.8M-0.62,0H-0.45M0.45,0H0.62M0.8,0H1.3M-0.4,-0.4H0.4V0.4H-0.4Z"]}, "legend": {"title": null, "orient": "top-right", "offset": 6}}
         }}
      ]
    },
    {
      "title": {"text": "(I) TDS (ppm)", "frame": "group"}, "width": 415, "height": 313,
      "transform": [{"filter": "datum.panel == 'I'"}],
      "encoding": {"x": {"field": "day", "type": "quantitative", "title": "Time (days)", "scale": {"domain": [-0.9, 21.5], "nice": false, "zero": false}, "axis": {"values": [0, 2.5, 5, 7.5, 10, 12.5, 15, 17.5, 20], "format": ".1f"}}},
      "layer": [
        {"transform": [{"filter": "datum.material == 'Graphene'"}], "mark": {"type": "area", "color": "#1f77b4", "opacity": 0.15}, "encoding": {"y": {"field": "lower", "type": "quantitative", "title": "TDS (ppm)", "scale": {"domain": [85, 403], "nice": false, "zero": false}, "axis": {"values": [100, 150, 200, 250, 300, 350, 400], "format": "d"}}, "y2": {"field": "upper"}}},
        {"transform": [{"filter": "datum.material == 'Graphite'"}], "mark": {"type": "area", "color": "#ff7f0e", "opacity": 0.15}, "encoding": {"y": {"field": "lower", "type": "quantitative", "title": "TDS (ppm)", "scale": {"domain": [85, 403], "nice": false, "zero": false}, "axis": {"values": [100, 150, 200, 250, 300, 350, 400], "format": "d"}}, "y2": {"field": "upper"}}},
        {"transform": [{"filter": "datum.material == 'Graphene'"}], "mark": {"type": "line", "color": "#1f77b4", "strokeWidth": 2.6, "point": {"filled": true, "size": 75, "color": "#1f77b4", "opacity": 1}}, "encoding": {"y": {"field": "value", "type": "quantitative", "title": "TDS (ppm)", "scale": {"domain": [85, 403], "nice": false, "zero": false}, "axis": {"values": [100, 150, 200, 250, 300, 350, 400], "format": "d"}}}},
        {"transform": [{"filter": "datum.material == 'Graphite'"}], "mark": {"type": "line", "color": "#ff7f0e", "strokeWidth": 2.6, "strokeDash": [9, 4], "point": {"filled": true, "shape": "square", "size": 80, "color": "#ff7f0e", "opacity": 1}}, "encoding": {"y": {"field": "value", "type": "quantitative", "title": "TDS (ppm)", "scale": {"domain": [85, 403], "nice": false, "zero": false}, "axis": {"values": [100, 150, 200, 250, 300, 350, 400], "format": "d"}}}},
        {"transform": [{"filter": "datum.panel == 'none'"}], "mark": {"type": "point", "filled": true, "opacity": 1, "strokeWidth": 2.6},
         "encoding": {
           "fill": {"field": "material", "type": "nominal", "scale": {"domain": ["Graphene", "Graphite"], "range": ["#1f77b4", "#ff7f0e"]}, "legend": {"title": null, "orient": "top-right", "offset": 8}},
           "stroke": {"field": "material", "type": "nominal", "scale": {"domain": ["Graphene", "Graphite"], "range": ["#1f77b4", "#ff7f0e"]}, "legend": {"title": null, "orient": "top-right", "offset": 8}},
           "shape": {"field": "material", "type": "nominal", "scale": {"domain": ["Graphene", "Graphite"], "range": ["M-1.3,0H1.3M0.4,0A0.4,0.4,0,1,1,-0.4,0A0.4,0.4,0,1,1,0.4,0Z", "M-1.3,0H-0.8M-0.62,0H-0.45M0.45,0H0.62M0.8,0H1.3M-0.4,-0.4H0.4V0.4H-0.4Z"]}, "legend": {"title": null, "orient": "top-right", "offset": 8}}
         }}
      ]
    },
    {
      "title": {"text": "(J) A260 (AU)", "frame": "group"}, "width": 415, "height": 313,
      "transform": [{"filter": "datum.panel == 'J'"}],
      "encoding": {"x": {"field": "day", "type": "quantitative", "title": "Time (days)", "scale": {"domain": [-0.85, 21.26], "nice": false, "zero": false}, "axis": {"values": [0, 2.5, 5, 7.5, 10, 12.5, 15, 17.5, 20], "format": ".1f"}}},
      "layer": [
        {"transform": [{"filter": "datum.material == 'Graphene'"}], "mark": {"type": "area", "color": "#1f77b4", "opacity": 0.15}, "encoding": {"y": {"field": "lower", "type": "quantitative", "title": "A260 (AU)", "scale": {"domain": [0.37, 1.005], "nice": false, "zero": false}, "axis": {"values": [0.4, 0.5, 0.6, 0.7, 0.8, 0.9, 1.0], "format": ".1f"}}, "y2": {"field": "upper"}}},
        {"transform": [{"filter": "datum.material == 'Graphite'"}], "mark": {"type": "area", "color": "#ff7f0e", "opacity": 0.15}, "encoding": {"y": {"field": "lower", "type": "quantitative", "title": "A260 (AU)", "scale": {"domain": [0.37, 1.005], "nice": false, "zero": false}, "axis": {"values": [0.4, 0.5, 0.6, 0.7, 0.8, 0.9, 1.0], "format": ".1f"}}, "y2": {"field": "upper"}}},
        {"transform": [{"filter": "datum.material == 'Graphene'"}], "mark": {"type": "line", "color": "#1f77b4", "strokeWidth": 2.6, "point": {"filled": true, "size": 75, "color": "#1f77b4", "opacity": 1}}, "encoding": {"y": {"field": "value", "type": "quantitative", "title": "A260 (AU)", "scale": {"domain": [0.37, 1.005], "nice": false, "zero": false}, "axis": {"values": [0.4, 0.5, 0.6, 0.7, 0.8, 0.9, 1.0], "format": ".1f"}}}},
        {"transform": [{"filter": "datum.material == 'Graphite'"}], "mark": {"type": "line", "color": "#ff7f0e", "strokeWidth": 2.6, "strokeDash": [9, 4], "point": {"filled": true, "shape": "square", "size": 80, "color": "#ff7f0e", "opacity": 1}}, "encoding": {"y": {"field": "value", "type": "quantitative", "title": "A260 (AU)", "scale": {"domain": [0.37, 1.005], "nice": false, "zero": false}, "axis": {"values": [0.4, 0.5, 0.6, 0.7, 0.8, 0.9, 1.0], "format": ".1f"}}}},
        {"transform": [{"filter": "datum.panel == 'none'"}], "mark": {"type": "point", "filled": true, "opacity": 1, "strokeWidth": 2.6},
         "encoding": {
           "fill": {"field": "material", "type": "nominal", "scale": {"domain": ["Graphene", "Graphite"], "range": ["#1f77b4", "#ff7f0e"]}, "legend": {"title": null, "orient": "top-right", "offset": 3}},
           "stroke": {"field": "material", "type": "nominal", "scale": {"domain": ["Graphene", "Graphite"], "range": ["#1f77b4", "#ff7f0e"]}, "legend": {"title": null, "orient": "top-right", "offset": 3}},
           "shape": {"field": "material", "type": "nominal", "scale": {"domain": ["Graphene", "Graphite"], "range": ["M-1.3,0H1.3M0.4,0A0.4,0.4,0,1,1,-0.4,0A0.4,0.4,0,1,1,0.4,0Z", "M-1.3,0H-0.8M-0.62,0H-0.45M0.45,0H0.62M0.8,0H1.3M-0.4,-0.4H0.4V0.4H-0.4Z"]}, "legend": {"title": null, "orient": "top-right", "offset": 3}}
         }}
      ]
    },
    {
      "title": {"text": "(K) A280 (AU)", "frame": "group"}, "width": 415, "height": 313,
      "transform": [{"filter": "datum.panel == 'K'"}],
      "encoding": {"x": {"field": "day", "type": "quantitative", "title": "Time (days)", "scale": {"domain": [-0.99, 21.3], "nice": false, "zero": false}, "axis": {"values": [0, 2.5, 5, 7.5, 10, 12.5, 15, 17.5, 20], "format": ".1f"}}},
      "layer": [
        {"transform": [{"filter": "datum.material == 'Graphene'"}], "mark": {"type": "area", "color": "#1f77b4", "opacity": 0.15}, "encoding": {"y": {"field": "lower", "type": "quantitative", "title": "A280 (AU)", "scale": {"domain": [0.184, 0.805], "nice": false, "zero": false}, "axis": {"values": [0.2, 0.3, 0.4, 0.5, 0.6, 0.7, 0.8], "format": ".1f"}}, "y2": {"field": "upper"}}},
        {"transform": [{"filter": "datum.material == 'Graphite'"}], "mark": {"type": "area", "color": "#ff7f0e", "opacity": 0.15}, "encoding": {"y": {"field": "lower", "type": "quantitative", "title": "A280 (AU)", "scale": {"domain": [0.184, 0.805], "nice": false, "zero": false}, "axis": {"values": [0.2, 0.3, 0.4, 0.5, 0.6, 0.7, 0.8], "format": ".1f"}}, "y2": {"field": "upper"}}},
        {"transform": [{"filter": "datum.material == 'Graphene'"}], "mark": {"type": "line", "color": "#1f77b4", "strokeWidth": 2.6, "point": {"filled": true, "size": 75, "color": "#1f77b4", "opacity": 1}}, "encoding": {"y": {"field": "value", "type": "quantitative", "title": "A280 (AU)", "scale": {"domain": [0.184, 0.805], "nice": false, "zero": false}, "axis": {"values": [0.2, 0.3, 0.4, 0.5, 0.6, 0.7, 0.8], "format": ".1f"}}}},
        {"transform": [{"filter": "datum.material == 'Graphite'"}], "mark": {"type": "line", "color": "#ff7f0e", "strokeWidth": 2.6, "strokeDash": [9, 4], "point": {"filled": true, "shape": "square", "size": 80, "color": "#ff7f0e", "opacity": 1}}, "encoding": {"y": {"field": "value", "type": "quantitative", "title": "A280 (AU)", "scale": {"domain": [0.184, 0.805], "nice": false, "zero": false}, "axis": {"values": [0.2, 0.3, 0.4, 0.5, 0.6, 0.7, 0.8], "format": ".1f"}}}}
      ]
    },
    {
      "title": {"text": "(L) A260/A280 ratio (-)", "frame": "group"}, "width": 415, "height": 313,
      "transform": [{"filter": "datum.panel == 'L'"}],
      "encoding": {"x": {"field": "day", "type": "quantitative", "title": "Time (days)", "scale": {"domain": [-1.04, 21.5], "nice": false, "zero": false}, "axis": {"values": [0, 2.5, 5, 7.5, 10, 12.5, 15, 17.5, 20], "format": ".1f"}}},
      "layer": [
        {"transform": [{"filter": "datum.material == 'Graphene'"}], "mark": {"type": "area", "color": "#1f77b4", "opacity": 0.15}, "encoding": {"y": {"field": "lower", "type": "quantitative", "title": "A260/A280 ratio (-)", "scale": {"domain": [0.983, 2.21], "nice": false, "zero": false}, "axis": {"values": [1.0, 1.2, 1.4, 1.6, 1.8, 2.0, 2.2], "format": ".1f"}}, "y2": {"field": "upper"}}},
        {"transform": [{"filter": "datum.material == 'Graphite'"}], "mark": {"type": "area", "color": "#ff7f0e", "opacity": 0.15}, "encoding": {"y": {"field": "lower", "type": "quantitative", "title": "A260/A280 ratio (-)", "scale": {"domain": [0.983, 2.21], "nice": false, "zero": false}, "axis": {"values": [1.0, 1.2, 1.4, 1.6, 1.8, 2.0, 2.2], "format": ".1f"}}, "y2": {"field": "upper"}}},
        {"transform": [{"filter": "datum.material == 'Graphene'"}], "mark": {"type": "line", "color": "#1f77b4", "strokeWidth": 2.6, "point": {"filled": true, "size": 75, "color": "#1f77b4", "opacity": 1}}, "encoding": {"y": {"field": "value", "type": "quantitative", "title": "A260/A280 ratio (-)", "scale": {"domain": [0.983, 2.21], "nice": false, "zero": false}, "axis": {"values": [1.0, 1.2, 1.4, 1.6, 1.8, 2.0, 2.2], "format": ".1f"}}}},
        {"transform": [{"filter": "datum.material == 'Graphite'"}], "mark": {"type": "line", "color": "#ff7f0e", "strokeWidth": 2.6, "strokeDash": [9, 4], "point": {"filled": true, "shape": "square", "size": 80, "color": "#ff7f0e", "opacity": 1}}, "encoding": {"y": {"field": "value", "type": "quantitative", "title": "A260/A280 ratio (-)", "scale": {"domain": [0.983, 2.21], "nice": false, "zero": false}, "axis": {"values": [1.0, 1.2, 1.4, 1.6, 1.8, 2.0, 2.2], "format": ".1f"}}}},
        {"transform": [{"filter": "datum.panel == 'none'"}], "mark": {"type": "point", "filled": true, "opacity": 1, "strokeWidth": 2.6},
         "encoding": {
           "fill": {"field": "material", "type": "nominal", "scale": {"domain": ["Graphene", "Graphite"], "range": ["#1f77b4", "#ff7f0e"]}, "legend": {"title": null, "orient": "top-right", "offset": 5}},
           "stroke": {"field": "material", "type": "nominal", "scale": {"domain": ["Graphene", "Graphite"], "range": ["#1f77b4", "#ff7f0e"]}, "legend": {"title": null, "orient": "top-right", "offset": 5}},
           "shape": {"field": "material", "type": "nominal", "scale": {"domain": ["Graphene", "Graphite"], "range": ["M-1.3,0H1.3M0.4,0A0.4,0.4,0,1,1,-0.4,0A0.4,0.4,0,1,1,0.4,0Z", "M-1.3,0H-0.8M-0.62,0H-0.45M0.45,0H0.62M0.8,0H1.3M-0.4,-0.4H0.4V0.4H-0.4Z"]}, "legend": {"title": null, "orient": "top-right", "offset": 5}}
         }}
      ]
    }
  ]
}
